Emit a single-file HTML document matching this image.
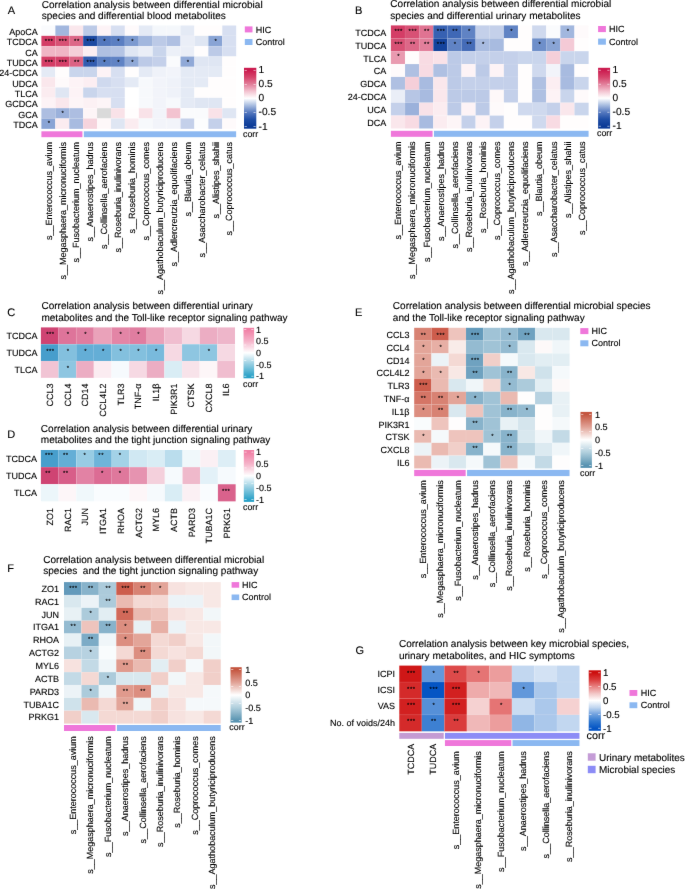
<!DOCTYPE html>
<html><head><meta charset="utf-8"><title>Figure</title>
<style>
html,body{margin:0;padding:0;background:#fff;}
body{width:685px;height:889px;overflow:hidden;}
svg{display:block;font-family:"Liberation Sans", sans-serif;will-change:transform;}
</style></head>
<body>
<svg width="685" height="889" viewBox="0 0 685 889" shape-rendering="crispEdges">
<rect x="0" y="0" width="685" height="889" fill="#ffffff"/>
<defs><filter id="soft" x="0" y="0" width="685" height="889" filterUnits="userSpaceOnUse" color-interpolation-filters="sRGB"><feConvolveMatrix order="3" kernelMatrix="0.00276 0.04704 0.00276 0.04704 0.80077 0.04704 0.00276 0.04704 0.00276" edgeMode="duplicate"/></filter></defs>
<g text-rendering="geometricPrecision" shape-rendering="auto" filter="url(#soft)">
<text x="7.70" y="13.50" font-size="11" text-anchor="start" fill="#000" stroke="#000" stroke-width="0.12" >A</text>
<text x="41.70" y="7.50" font-size="10.05" text-anchor="start" fill="#000" stroke="#000" stroke-width="0.12" >Correlation analysis between differential microbial</text>
<text x="41.70" y="18.80" font-size="10.05" text-anchor="start" fill="#000" stroke="#000" stroke-width="0.12" >species and differential blood metabolites</text>
<rect x="41.40" y="25.50" width="13.96" height="10.38" fill="#FAFBFD" />
<rect x="55.31" y="25.50" width="13.96" height="10.38" fill="#A2B7DE" />
<rect x="69.22" y="25.50" width="13.96" height="10.38" fill="#FAE7EC" />
<rect x="83.13" y="25.50" width="13.96" height="10.38" fill="#BCCAE7" />
<rect x="97.04" y="25.50" width="13.96" height="10.38" fill="#FDF3F6" />
<rect x="110.95" y="25.50" width="13.96" height="10.38" fill="#D7DFF1" />
<rect x="124.86" y="25.50" width="13.96" height="10.38" fill="#FEFAFB" />
<rect x="138.77" y="25.50" width="13.96" height="10.38" fill="#E4EAF5" />
<rect x="152.68" y="25.50" width="13.96" height="10.38" fill="#F4F7FB" />
<rect x="166.59" y="25.50" width="13.96" height="10.38" fill="#F4F7FB" />
<rect x="180.50" y="25.50" width="13.96" height="10.38" fill="#E4EAF5" />
<rect x="194.41" y="25.50" width="13.96" height="10.38" fill="#FFFDFD" />
<rect x="208.32" y="25.50" width="13.96" height="10.38" fill="#FFFDFD" />
<rect x="222.23" y="25.50" width="13.96" height="10.38" fill="#D7DFF1" />
<rect x="41.40" y="35.83" width="13.96" height="10.38" fill="#D43D66" />
<rect x="55.31" y="35.83" width="13.96" height="10.38" fill="#D85175" />
<rect x="69.22" y="35.83" width="13.96" height="10.38" fill="#DD6888" />
<rect x="83.13" y="35.83" width="13.96" height="10.38" fill="#1D4AA2" />
<rect x="97.04" y="35.83" width="13.96" height="10.38" fill="#5378BE" />
<rect x="110.95" y="35.83" width="13.96" height="10.38" fill="#5B7FC2" />
<rect x="124.86" y="35.83" width="13.96" height="10.38" fill="#7C9AD0" />
<rect x="138.77" y="35.83" width="13.96" height="10.38" fill="#A2B7DE" />
<rect x="152.68" y="35.83" width="13.96" height="10.38" fill="#BCCAE7" />
<rect x="166.59" y="35.83" width="13.96" height="10.38" fill="#AFC0E2" />
<rect x="180.50" y="35.83" width="13.96" height="10.38" fill="#EAEEF7" />
<rect x="194.41" y="35.83" width="13.96" height="10.38" fill="#DFE6F3" />
<rect x="208.32" y="35.83" width="13.96" height="10.38" fill="#89A4D5" />
<rect x="222.23" y="35.83" width="13.96" height="10.38" fill="#D7DFF1" />
<rect x="41.40" y="46.16" width="13.96" height="10.38" fill="#F0B5C5" />
<rect x="55.31" y="46.16" width="13.96" height="10.38" fill="#F0B5C5" />
<rect x="69.22" y="46.16" width="13.96" height="10.38" fill="#F5CFD9" />
<rect x="83.13" y="46.16" width="13.96" height="10.38" fill="#FCEEF2" />
<rect x="97.04" y="46.16" width="13.96" height="10.38" fill="#AFC0E2" />
<rect x="110.95" y="46.16" width="13.96" height="10.38" fill="#B4C4E4" />
<rect x="124.86" y="46.16" width="13.96" height="10.38" fill="#DFE6F3" />
<rect x="138.77" y="46.16" width="13.96" height="10.38" fill="#EAEEF7" />
<rect x="152.68" y="46.16" width="13.96" height="10.38" fill="#C9D5EC" />
<rect x="166.59" y="46.16" width="13.96" height="10.38" fill="#ECF0F8" />
<rect x="180.50" y="46.16" width="13.96" height="10.38" fill="#EAEEF7" />
<rect x="194.41" y="46.16" width="13.96" height="10.38" fill="#FFFDFD" />
<rect x="208.32" y="46.16" width="13.96" height="10.38" fill="#BCCAE7" />
<rect x="222.23" y="46.16" width="13.96" height="10.38" fill="#D7DFF1" />
<rect x="41.40" y="56.49" width="13.96" height="10.38" fill="#D43D66" />
<rect x="55.31" y="56.49" width="13.96" height="10.38" fill="#D54069" />
<rect x="69.22" y="56.49" width="13.96" height="10.38" fill="#DC6384" />
<rect x="83.13" y="56.49" width="13.96" height="10.38" fill="#325CAF" />
<rect x="97.04" y="56.49" width="13.96" height="10.38" fill="#5B7FC2" />
<rect x="110.95" y="56.49" width="13.96" height="10.38" fill="#6083C4" />
<rect x="124.86" y="56.49" width="13.96" height="10.38" fill="#90A9D7" />
<rect x="138.77" y="56.49" width="13.96" height="10.38" fill="#BCCAE7" />
<rect x="152.68" y="56.49" width="13.96" height="10.38" fill="#C4D0EA" />
<rect x="166.59" y="56.49" width="13.96" height="10.38" fill="#FAFBFD" />
<rect x="180.50" y="56.49" width="13.96" height="10.38" fill="#90A9D7" />
<rect x="194.41" y="56.49" width="13.96" height="10.38" fill="#DFE6F3" />
<rect x="208.32" y="56.49" width="13.96" height="10.38" fill="#DFE6F3" />
<rect x="222.23" y="56.49" width="13.96" height="10.38" fill="#FFFDFD" />
<rect x="41.40" y="66.82" width="13.96" height="10.38" fill="#E4EAF5" />
<rect x="55.31" y="66.82" width="13.96" height="10.38" fill="#FFFDFD" />
<rect x="69.22" y="66.82" width="13.96" height="10.38" fill="#C9D5EC" />
<rect x="83.13" y="66.82" width="13.96" height="10.38" fill="#C9D5EC" />
<rect x="97.04" y="66.82" width="13.96" height="10.38" fill="#FDF3F6" />
<rect x="110.95" y="66.82" width="13.96" height="10.38" fill="#D7DFF1" />
<rect x="124.86" y="66.82" width="13.96" height="10.38" fill="#FFFDFD" />
<rect x="138.77" y="66.82" width="13.96" height="10.38" fill="#E4EAF5" />
<rect x="152.68" y="66.82" width="13.96" height="10.38" fill="#EFF2F9" />
<rect x="166.59" y="66.82" width="13.96" height="10.38" fill="#F2F4FA" />
<rect x="180.50" y="66.82" width="13.96" height="10.38" fill="#E4EAF5" />
<rect x="194.41" y="66.82" width="13.96" height="10.38" fill="#E4EAF5" />
<rect x="208.32" y="66.82" width="13.96" height="10.38" fill="#E4EAF5" />
<rect x="222.23" y="66.82" width="13.96" height="10.38" fill="#FFFDFD" />
<rect x="41.40" y="77.15" width="13.96" height="10.38" fill="#FAE7EC" />
<rect x="55.31" y="77.15" width="13.96" height="10.38" fill="#FEFAFB" />
<rect x="69.22" y="77.15" width="13.96" height="10.38" fill="#FDF3F6" />
<rect x="83.13" y="77.15" width="13.96" height="10.38" fill="#FCEEF2" />
<rect x="97.04" y="77.15" width="13.96" height="10.38" fill="#CFD9EE" />
<rect x="110.95" y="77.15" width="13.96" height="10.38" fill="#D7DFF1" />
<rect x="124.86" y="77.15" width="13.96" height="10.38" fill="#E4EAF5" />
<rect x="138.77" y="77.15" width="13.96" height="10.38" fill="#F7F9FC" />
<rect x="152.68" y="77.15" width="13.96" height="10.38" fill="#F2F4FA" />
<rect x="166.59" y="77.15" width="13.96" height="10.38" fill="#EFF2F9" />
<rect x="180.50" y="77.15" width="13.96" height="10.38" fill="#E4EAF5" />
<rect x="194.41" y="77.15" width="13.96" height="10.38" fill="#E4EAF5" />
<rect x="208.32" y="77.15" width="13.96" height="10.38" fill="#FFFDFD" />
<rect x="222.23" y="77.15" width="13.96" height="10.38" fill="#FFFDFD" />
<rect x="41.40" y="87.48" width="13.96" height="10.38" fill="#FBECF0" />
<rect x="55.31" y="87.48" width="13.96" height="10.38" fill="#DFE6F3" />
<rect x="69.22" y="87.48" width="13.96" height="10.38" fill="#FDF3F6" />
<rect x="83.13" y="87.48" width="13.96" height="10.38" fill="#C9D5EC" />
<rect x="97.04" y="87.48" width="13.96" height="10.38" fill="#D7DFF1" />
<rect x="110.95" y="87.48" width="13.96" height="10.38" fill="#D7DFF1" />
<rect x="124.86" y="87.48" width="13.96" height="10.38" fill="#FFFFFF" />
<rect x="138.77" y="87.48" width="13.96" height="10.38" fill="#F7F9FC" />
<rect x="152.68" y="87.48" width="13.96" height="10.38" fill="#F2F4FA" />
<rect x="166.59" y="87.48" width="13.96" height="10.38" fill="#EFF2F9" />
<rect x="180.50" y="87.48" width="13.96" height="10.38" fill="#E4EAF5" />
<rect x="194.41" y="87.48" width="13.96" height="10.38" fill="#FFFDFD" />
<rect x="208.32" y="87.48" width="13.96" height="10.38" fill="#FFFDFD" />
<rect x="222.23" y="87.48" width="13.96" height="10.38" fill="#FFFDFD" />
<rect x="41.40" y="97.81" width="13.96" height="10.38" fill="#FDF3F6" />
<rect x="55.31" y="97.81" width="13.96" height="10.38" fill="#FAE7EC" />
<rect x="69.22" y="97.81" width="13.96" height="10.38" fill="#FDF5F7" />
<rect x="83.13" y="97.81" width="13.96" height="10.38" fill="#FCF1F4" />
<rect x="97.04" y="97.81" width="13.96" height="10.38" fill="#FDF5F7" />
<rect x="110.95" y="97.81" width="13.96" height="10.38" fill="#D7DFF1" />
<rect x="124.86" y="97.81" width="13.96" height="10.38" fill="#FFFFFF" />
<rect x="138.77" y="97.81" width="13.96" height="10.38" fill="#F7F9FC" />
<rect x="152.68" y="97.81" width="13.96" height="10.38" fill="#F2F4FA" />
<rect x="166.59" y="97.81" width="13.96" height="10.38" fill="#F7F9FC" />
<rect x="180.50" y="97.81" width="13.96" height="10.38" fill="#E4EAF5" />
<rect x="194.41" y="97.81" width="13.96" height="10.38" fill="#DFE6F3" />
<rect x="208.32" y="97.81" width="13.96" height="10.38" fill="#DFE6F3" />
<rect x="222.23" y="97.81" width="13.96" height="10.38" fill="#FFFDFD" />
<rect x="41.40" y="108.14" width="13.96" height="10.38" fill="#ADBEE1" />
<rect x="55.31" y="108.14" width="13.96" height="10.38" fill="#9BB1DB" />
<rect x="69.22" y="108.14" width="13.96" height="10.38" fill="#ADBEE1" />
<rect x="83.13" y="108.14" width="13.96" height="10.38" fill="#FDF5F7" />
<rect x="97.04" y="108.14" width="13.96" height="10.38" fill="#DADADA" />
<rect x="110.95" y="108.14" width="13.96" height="10.38" fill="#F9E2E8" />
<rect x="124.86" y="108.14" width="13.96" height="10.38" fill="#FFFDFD" />
<rect x="138.77" y="108.14" width="13.96" height="10.38" fill="#F9E2E8" />
<rect x="152.68" y="108.14" width="13.96" height="10.38" fill="#F2F4FA" />
<rect x="166.59" y="108.14" width="13.96" height="10.38" fill="#F3C3D0" />
<rect x="180.50" y="108.14" width="13.96" height="10.38" fill="#FAFBFD" />
<rect x="194.41" y="108.14" width="13.96" height="10.38" fill="#FAFBFD" />
<rect x="208.32" y="108.14" width="13.96" height="10.38" fill="#F9E2E8" />
<rect x="222.23" y="108.14" width="13.96" height="10.38" fill="#DFE6F3" />
<rect x="41.40" y="118.47" width="13.96" height="10.38" fill="#89A4D5" />
<rect x="55.31" y="118.47" width="13.96" height="10.38" fill="#FBECF0" />
<rect x="69.22" y="118.47" width="13.96" height="10.38" fill="#A8BBE0" />
<rect x="83.13" y="118.47" width="13.96" height="10.38" fill="#F6D4DD" />
<rect x="97.04" y="118.47" width="13.96" height="10.38" fill="#FEF8F9" />
<rect x="110.95" y="118.47" width="13.96" height="10.38" fill="#DFE6F3" />
<rect x="124.86" y="118.47" width="13.96" height="10.38" fill="#FBECF0" />
<rect x="138.77" y="118.47" width="13.96" height="10.38" fill="#F7F9FC" />
<rect x="152.68" y="118.47" width="13.96" height="10.38" fill="#F2F4FA" />
<rect x="166.59" y="118.47" width="13.96" height="10.38" fill="#F2F4FA" />
<rect x="180.50" y="118.47" width="13.96" height="10.38" fill="#C4D0EA" />
<rect x="194.41" y="118.47" width="13.96" height="10.38" fill="#FCFDFE" />
<rect x="208.32" y="118.47" width="13.96" height="10.38" fill="#C4D0EA" />
<rect x="222.23" y="118.47" width="13.96" height="10.38" fill="#FEFAFB" />
<rect x="41.40" y="35.58" width="194.74" height="0.50" fill="#ffffff" opacity="0.16"/>
<rect x="41.40" y="45.91" width="194.74" height="0.50" fill="#ffffff" opacity="0.16"/>
<rect x="41.40" y="56.24" width="194.74" height="0.50" fill="#ffffff" opacity="0.16"/>
<rect x="41.40" y="66.57" width="194.74" height="0.50" fill="#ffffff" opacity="0.16"/>
<rect x="41.40" y="76.90" width="194.74" height="0.50" fill="#ffffff" opacity="0.16"/>
<rect x="41.40" y="87.23" width="194.74" height="0.50" fill="#ffffff" opacity="0.16"/>
<rect x="41.40" y="97.56" width="194.74" height="0.50" fill="#ffffff" opacity="0.16"/>
<rect x="41.40" y="107.89" width="194.74" height="0.50" fill="#ffffff" opacity="0.16"/>
<rect x="41.40" y="118.22" width="194.74" height="0.50" fill="#ffffff" opacity="0.16"/>
<rect x="55.06" y="25.50" width="0.50" height="103.30" fill="#ffffff" opacity="0.16"/>
<rect x="68.97" y="25.50" width="0.50" height="103.30" fill="#ffffff" opacity="0.16"/>
<rect x="82.88" y="25.50" width="0.50" height="103.30" fill="#ffffff" opacity="0.16"/>
<rect x="96.79" y="25.50" width="0.50" height="103.30" fill="#ffffff" opacity="0.16"/>
<rect x="110.70" y="25.50" width="0.50" height="103.30" fill="#ffffff" opacity="0.16"/>
<rect x="124.61" y="25.50" width="0.50" height="103.30" fill="#ffffff" opacity="0.16"/>
<rect x="138.52" y="25.50" width="0.50" height="103.30" fill="#ffffff" opacity="0.16"/>
<rect x="152.43" y="25.50" width="0.50" height="103.30" fill="#ffffff" opacity="0.16"/>
<rect x="166.34" y="25.50" width="0.50" height="103.30" fill="#ffffff" opacity="0.16"/>
<rect x="180.25" y="25.50" width="0.50" height="103.30" fill="#ffffff" opacity="0.16"/>
<rect x="194.16" y="25.50" width="0.50" height="103.30" fill="#ffffff" opacity="0.16"/>
<rect x="208.07" y="25.50" width="0.50" height="103.30" fill="#ffffff" opacity="0.16"/>
<rect x="221.98" y="25.50" width="0.50" height="103.30" fill="#ffffff" opacity="0.16"/>
<text x="49.10" y="43.37" font-size="6.0" text-anchor="middle" fill="#000" stroke="#000" stroke-width="0.12" letter-spacing="0.5">***</text>
<text x="63.02" y="43.37" font-size="6.0" text-anchor="middle" fill="#000" stroke="#000" stroke-width="0.12" letter-spacing="0.5">***</text>
<text x="76.92" y="43.37" font-size="6.0" text-anchor="middle" fill="#000" stroke="#000" stroke-width="0.12" letter-spacing="0.5">**</text>
<text x="90.84" y="43.37" font-size="6.0" text-anchor="middle" fill="#000" stroke="#000" stroke-width="0.12" letter-spacing="0.5">***</text>
<text x="104.75" y="43.37" font-size="6.0" text-anchor="middle" fill="#000" stroke="#000" stroke-width="0.12" letter-spacing="0.5">*</text>
<text x="118.66" y="43.37" font-size="6.0" text-anchor="middle" fill="#000" stroke="#000" stroke-width="0.12" letter-spacing="0.5">*</text>
<text x="132.56" y="43.37" font-size="6.0" text-anchor="middle" fill="#000" stroke="#000" stroke-width="0.12" letter-spacing="0.5">*</text>
<text x="216.03" y="43.37" font-size="6.0" text-anchor="middle" fill="#000" stroke="#000" stroke-width="0.12" letter-spacing="0.5">*</text>
<text x="49.10" y="63.77" font-size="6.0" text-anchor="middle" fill="#000" stroke="#000" stroke-width="0.12" letter-spacing="0.5">***</text>
<text x="63.02" y="63.77" font-size="6.0" text-anchor="middle" fill="#000" stroke="#000" stroke-width="0.12" letter-spacing="0.5">***</text>
<text x="76.92" y="63.77" font-size="6.0" text-anchor="middle" fill="#000" stroke="#000" stroke-width="0.12" letter-spacing="0.5">**</text>
<text x="90.84" y="63.77" font-size="6.0" text-anchor="middle" fill="#000" stroke="#000" stroke-width="0.12" letter-spacing="0.5">***</text>
<text x="104.75" y="63.77" font-size="6.0" text-anchor="middle" fill="#000" stroke="#000" stroke-width="0.12" letter-spacing="0.5">*</text>
<text x="118.66" y="63.77" font-size="6.0" text-anchor="middle" fill="#000" stroke="#000" stroke-width="0.12" letter-spacing="0.5">*</text>
<text x="132.56" y="63.77" font-size="6.0" text-anchor="middle" fill="#000" stroke="#000" stroke-width="0.12" letter-spacing="0.5">*</text>
<text x="188.21" y="63.77" font-size="6.0" text-anchor="middle" fill="#000" stroke="#000" stroke-width="0.12" letter-spacing="0.5">*</text>
<text x="63.02" y="114.77" font-size="6.0" text-anchor="middle" fill="#000" stroke="#000" stroke-width="0.12" letter-spacing="0.5">*</text>
<text x="49.10" y="124.97" font-size="6.0" text-anchor="middle" fill="#000" stroke="#000" stroke-width="0.12" letter-spacing="0.5">*</text>
<text x="37.80" y="34.96" font-size="9.0" text-anchor="end" fill="#000" stroke="#000" stroke-width="0.12" >ApoCA</text>
<text x="37.80" y="45.30" font-size="9.0" text-anchor="end" fill="#000" stroke="#000" stroke-width="0.12" >TCDCA</text>
<text x="37.80" y="55.62" font-size="9.0" text-anchor="end" fill="#000" stroke="#000" stroke-width="0.12" >CA</text>
<text x="37.80" y="65.95" font-size="9.0" text-anchor="end" fill="#000" stroke="#000" stroke-width="0.12" >TUDCA</text>
<text x="37.80" y="76.28" font-size="9.0" text-anchor="end" fill="#000" stroke="#000" stroke-width="0.12" >24-CDCA</text>
<text x="37.80" y="86.61" font-size="9.0" text-anchor="end" fill="#000" stroke="#000" stroke-width="0.12" >UDCA</text>
<text x="37.80" y="96.94" font-size="9.0" text-anchor="end" fill="#000" stroke="#000" stroke-width="0.12" >TLCA</text>
<text x="37.80" y="107.27" font-size="9.0" text-anchor="end" fill="#000" stroke="#000" stroke-width="0.12" >GCDCA</text>
<text x="37.80" y="117.61" font-size="9.0" text-anchor="end" fill="#000" stroke="#000" stroke-width="0.12" >GCA</text>
<text x="37.80" y="127.94" font-size="9.0" text-anchor="end" fill="#000" stroke="#000" stroke-width="0.12" >TDCA</text>
<rect x="41.40" y="131.30" width="41.03" height="5.90" fill="#EF77DA" />
<rect x="83.83" y="131.30" width="152.31" height="5.90" fill="#8BB8F1" />
<text transform="translate(51.65,141.90) rotate(-90)" font-size="9.0" text-anchor="end" fill="#000" stroke="#000" stroke-width="0.12">s__Enterococcus_avium</text>
<text transform="translate(65.56,141.90) rotate(-90)" font-size="9.0" text-anchor="end" fill="#000" stroke="#000" stroke-width="0.12">s__Megasphaera_micronuciformis</text>
<text transform="translate(79.47,141.90) rotate(-90)" font-size="9.0" text-anchor="end" fill="#000" stroke="#000" stroke-width="0.12">s__Fusobacterium_nucleatum</text>
<text transform="translate(93.39,141.90) rotate(-90)" font-size="9.0" text-anchor="end" fill="#000" stroke="#000" stroke-width="0.12">s__Anaerostipes_hadrus</text>
<text transform="translate(107.30,141.90) rotate(-90)" font-size="9.0" text-anchor="end" fill="#000" stroke="#000" stroke-width="0.12">s__Collinsella_aerofaciens</text>
<text transform="translate(121.20,141.90) rotate(-90)" font-size="9.0" text-anchor="end" fill="#000" stroke="#000" stroke-width="0.12">s__Roseburia_inulinivorans</text>
<text transform="translate(135.12,141.90) rotate(-90)" font-size="9.0" text-anchor="end" fill="#000" stroke="#000" stroke-width="0.12">s__Roseburia_hominis</text>
<text transform="translate(149.03,141.90) rotate(-90)" font-size="9.0" text-anchor="end" fill="#000" stroke="#000" stroke-width="0.12">s__Coprococcus_comes</text>
<text transform="translate(162.94,141.90) rotate(-90)" font-size="9.0" text-anchor="end" fill="#000" stroke="#000" stroke-width="0.12">s__Agathobaculum_butyriciproducens</text>
<text transform="translate(176.85,141.90) rotate(-90)" font-size="9.0" text-anchor="end" fill="#000" stroke="#000" stroke-width="0.12">s__Adlercreutzia_equolifaciens</text>
<text transform="translate(190.76,141.90) rotate(-90)" font-size="9.0" text-anchor="end" fill="#000" stroke="#000" stroke-width="0.12">s__Blautia_obeum</text>
<text transform="translate(204.67,141.90) rotate(-90)" font-size="9.0" text-anchor="end" fill="#000" stroke="#000" stroke-width="0.12">s__Asaccharobacter_celatus</text>
<text transform="translate(218.58,141.90) rotate(-90)" font-size="9.0" text-anchor="end" fill="#000" stroke="#000" stroke-width="0.12">s__Alistipes_shahii</text>
<text transform="translate(232.49,141.90) rotate(-90)" font-size="9.0" text-anchor="end" fill="#000" stroke="#000" stroke-width="0.12">s__Coprococcus_catus</text>
<rect x="244.80" y="26.40" width="7.70" height="6.00" fill="#EF77DA" />
<rect x="244.80" y="39.00" width="7.70" height="6.00" fill="#8BB8F1" />
<text x="255.70" y="32.50" font-size="9.0" text-anchor="start" fill="#000" stroke="#000" stroke-width="0.12" >HIC</text>
<text x="255.70" y="45.10" font-size="9.0" text-anchor="start" fill="#000" stroke="#000" stroke-width="0.12" >Control</text>
<defs><linearGradient id="g213" x1="0" y1="0" x2="0" y2="1"><stop offset="0.0411" stop-color="#CB1B4F"/><stop offset="0.0794" stop-color="#CF2959"/><stop offset="0.1178" stop-color="#D23762"/><stop offset="0.1562" stop-color="#D6456C"/><stop offset="0.1946" stop-color="#DA587C"/><stop offset="0.2330" stop-color="#DE6C8B"/><stop offset="0.2713" stop-color="#E27F9B"/><stop offset="0.3097" stop-color="#E896AD"/><stop offset="0.3481" stop-color="#EDACBE"/><stop offset="0.3865" stop-color="#F3C3D0"/><stop offset="0.4249" stop-color="#F7D7E0"/><stop offset="0.4633" stop-color="#FBEBEF"/><stop offset="0.5016" stop-color="#FFFFFF"/><stop offset="0.5400" stop-color="#E2E9F5"/><stop offset="0.5784" stop-color="#C5D3EA"/><stop offset="0.6168" stop-color="#A8BDE0"/><stop offset="0.6552" stop-color="#8DA6D5"/><stop offset="0.6936" stop-color="#7190CA"/><stop offset="0.7319" stop-color="#5679BF"/><stop offset="0.7703" stop-color="#446BB7"/><stop offset="0.8087" stop-color="#315CAE"/><stop offset="0.8471" stop-color="#1F4EA6"/><stop offset="0.8855" stop-color="#1948A1"/><stop offset="0.9239" stop-color="#12419C"/><stop offset="0.9622" stop-color="#0C3B97"/></linearGradient></defs>
<rect x="244.00" y="67.80" width="12.30" height="60.90" fill="url(#g213)" />
<rect x="244.60" y="69.95" width="2.20" height="0.70" fill="#ffffff" opacity="0.8"/>
<rect x="253.50" y="69.95" width="2.20" height="0.70" fill="#ffffff" opacity="0.8"/>
<rect x="244.60" y="83.98" width="2.20" height="0.70" fill="#ffffff" opacity="0.8"/>
<rect x="253.50" y="83.98" width="2.20" height="0.70" fill="#ffffff" opacity="0.8"/>
<rect x="244.60" y="98.00" width="2.20" height="0.70" fill="#ffffff" opacity="0.8"/>
<rect x="253.50" y="98.00" width="2.20" height="0.70" fill="#ffffff" opacity="0.8"/>
<rect x="244.60" y="112.03" width="2.20" height="0.70" fill="#ffffff" opacity="0.8"/>
<rect x="253.50" y="112.03" width="2.20" height="0.70" fill="#ffffff" opacity="0.8"/>
<rect x="244.60" y="126.05" width="2.20" height="0.70" fill="#ffffff" opacity="0.8"/>
<rect x="253.50" y="126.05" width="2.20" height="0.70" fill="#ffffff" opacity="0.8"/>
<text x="258.50" y="73.40" font-size="10.2" text-anchor="start" fill="#000" stroke="#000" stroke-width="0.12" >1</text>
<text x="258.50" y="87.42" font-size="10.2" text-anchor="start" fill="#000" stroke="#000" stroke-width="0.12" >0.5</text>
<text x="258.50" y="101.45" font-size="10.2" text-anchor="start" fill="#000" stroke="#000" stroke-width="0.12" >0</text>
<text x="258.50" y="115.47" font-size="10.2" text-anchor="start" fill="#000" stroke="#000" stroke-width="0.12" >-0.5</text>
<text x="258.50" y="129.50" font-size="10.2" text-anchor="start" fill="#000" stroke="#000" stroke-width="0.12" >-1</text>
<text x="243.00" y="136.50" font-size="8.9" text-anchor="start" fill="#000" stroke="#000" stroke-width="0.12" >corr</text>
<text x="355.00" y="13.50" font-size="11" text-anchor="start" fill="#000" stroke="#000" stroke-width="0.12" >B</text>
<text x="390.30" y="7.10" font-size="10.05" text-anchor="start" fill="#000" stroke="#000" stroke-width="0.12" >Correlation analysis between differential microbial</text>
<text x="390.30" y="18.60" font-size="10.05" text-anchor="start" fill="#000" stroke="#000" stroke-width="0.12" >species and differential urinary metabolites</text>
<rect x="390.90" y="25.40" width="14.17" height="12.93" fill="#D43D66" />
<rect x="405.02" y="25.40" width="14.17" height="12.93" fill="#D85175" />
<rect x="419.14" y="25.40" width="14.17" height="12.93" fill="#E07392" />
<rect x="433.26" y="25.40" width="14.17" height="12.93" fill="#3761B2" />
<rect x="447.38" y="25.40" width="14.17" height="12.93" fill="#3F68B6" />
<rect x="461.50" y="25.40" width="14.17" height="12.93" fill="#6083C4" />
<rect x="475.62" y="25.40" width="14.17" height="12.93" fill="#C4D0EA" />
<rect x="489.74" y="25.40" width="14.17" height="12.93" fill="#C4D0EA" />
<rect x="503.86" y="25.40" width="14.17" height="12.93" fill="#6083C4" />
<rect x="517.98" y="25.40" width="14.17" height="12.93" fill="#FFFDFD" />
<rect x="532.10" y="25.40" width="14.17" height="12.93" fill="#CFD9EE" />
<rect x="546.22" y="25.40" width="14.17" height="12.93" fill="#FAFBFD" />
<rect x="560.34" y="25.40" width="14.17" height="12.93" fill="#A2B7DE" />
<rect x="574.46" y="25.40" width="14.17" height="12.93" fill="#FEFAFB" />
<rect x="390.90" y="38.28" width="14.17" height="12.93" fill="#D85175" />
<rect x="405.02" y="38.28" width="14.17" height="12.93" fill="#DD6888" />
<rect x="419.14" y="38.28" width="14.17" height="12.93" fill="#E27F9B" />
<rect x="433.26" y="38.28" width="14.17" height="12.93" fill="#14439D" />
<rect x="447.38" y="38.28" width="14.17" height="12.93" fill="#6083C4" />
<rect x="461.50" y="38.28" width="14.17" height="12.93" fill="#456CB8" />
<rect x="475.62" y="38.28" width="14.17" height="12.93" fill="#A8BBE0" />
<rect x="489.74" y="38.28" width="14.17" height="12.93" fill="#A8BBE0" />
<rect x="503.86" y="38.28" width="14.17" height="12.93" fill="#FFFDFD" />
<rect x="517.98" y="38.28" width="14.17" height="12.93" fill="#FFFDFD" />
<rect x="532.10" y="38.28" width="14.17" height="12.93" fill="#6E8FCA" />
<rect x="546.22" y="38.28" width="14.17" height="12.93" fill="#89A4D5" />
<rect x="560.34" y="38.28" width="14.17" height="12.93" fill="#F4CAD6" />
<rect x="574.46" y="38.28" width="14.17" height="12.93" fill="#FFFDFD" />
<rect x="390.90" y="51.16" width="14.17" height="12.93" fill="#E99AB0" />
<rect x="405.02" y="51.16" width="14.17" height="12.93" fill="#FFFDFD" />
<rect x="419.14" y="51.16" width="14.17" height="12.93" fill="#F8DBE3" />
<rect x="433.26" y="51.16" width="14.17" height="12.93" fill="#F9E2E8" />
<rect x="447.38" y="51.16" width="14.17" height="12.93" fill="#BCCAE7" />
<rect x="461.50" y="51.16" width="14.17" height="12.93" fill="#C4D0EA" />
<rect x="475.62" y="51.16" width="14.17" height="12.93" fill="#C4D0EA" />
<rect x="489.74" y="51.16" width="14.17" height="12.93" fill="#C4D0EA" />
<rect x="503.86" y="51.16" width="14.17" height="12.93" fill="#C4D0EA" />
<rect x="517.98" y="51.16" width="14.17" height="12.93" fill="#C9D5EC" />
<rect x="532.10" y="51.16" width="14.17" height="12.93" fill="#C9D5EC" />
<rect x="546.22" y="51.16" width="14.17" height="12.93" fill="#F5CFD9" />
<rect x="560.34" y="51.16" width="14.17" height="12.93" fill="#C9D5EC" />
<rect x="574.46" y="51.16" width="14.17" height="12.93" fill="#C9D5EC" />
<rect x="390.90" y="64.04" width="14.17" height="12.93" fill="#FEFAFB" />
<rect x="405.02" y="64.04" width="14.17" height="12.93" fill="#AFC0E2" />
<rect x="419.14" y="64.04" width="14.17" height="12.93" fill="#F8DBE3" />
<rect x="433.26" y="64.04" width="14.17" height="12.93" fill="#AFC0E2" />
<rect x="447.38" y="64.04" width="14.17" height="12.93" fill="#BCCAE7" />
<rect x="461.50" y="64.04" width="14.17" height="12.93" fill="#FDF3F6" />
<rect x="475.62" y="64.04" width="14.17" height="12.93" fill="#BCCAE7" />
<rect x="489.74" y="64.04" width="14.17" height="12.93" fill="#FDF3F6" />
<rect x="503.86" y="64.04" width="14.17" height="12.93" fill="#C4D0EA" />
<rect x="517.98" y="64.04" width="14.17" height="12.93" fill="#FFFDFD" />
<rect x="532.10" y="64.04" width="14.17" height="12.93" fill="#CFD9EE" />
<rect x="546.22" y="64.04" width="14.17" height="12.93" fill="#F2F4FA" />
<rect x="560.34" y="64.04" width="14.17" height="12.93" fill="#A8BBE0" />
<rect x="574.46" y="64.04" width="14.17" height="12.93" fill="#FFFDFD" />
<rect x="390.90" y="76.92" width="14.17" height="12.93" fill="#AFC0E2" />
<rect x="405.02" y="76.92" width="14.17" height="12.93" fill="#F5CFD9" />
<rect x="419.14" y="76.92" width="14.17" height="12.93" fill="#A8BBE0" />
<rect x="433.26" y="76.92" width="14.17" height="12.93" fill="#FAE7EC" />
<rect x="447.38" y="76.92" width="14.17" height="12.93" fill="#BCCAE7" />
<rect x="461.50" y="76.92" width="14.17" height="12.93" fill="#C4D0EA" />
<rect x="475.62" y="76.92" width="14.17" height="12.93" fill="#C4D0EA" />
<rect x="489.74" y="76.92" width="14.17" height="12.93" fill="#C4D0EA" />
<rect x="503.86" y="76.92" width="14.17" height="12.93" fill="#C4D0EA" />
<rect x="517.98" y="76.92" width="14.17" height="12.93" fill="#FFFDFD" />
<rect x="532.10" y="76.92" width="14.17" height="12.93" fill="#AFC0E2" />
<rect x="546.22" y="76.92" width="14.17" height="12.93" fill="#FCEEF2" />
<rect x="560.34" y="76.92" width="14.17" height="12.93" fill="#A8BBE0" />
<rect x="574.46" y="76.92" width="14.17" height="12.93" fill="#C9D5EC" />
<rect x="390.90" y="89.80" width="14.17" height="12.93" fill="#EAEEF7" />
<rect x="405.02" y="89.80" width="14.17" height="12.93" fill="#B7C6E5" />
<rect x="419.14" y="89.80" width="14.17" height="12.93" fill="#A8BBE0" />
<rect x="433.26" y="89.80" width="14.17" height="12.93" fill="#FAE7EC" />
<rect x="447.38" y="89.80" width="14.17" height="12.93" fill="#BCCAE7" />
<rect x="461.50" y="89.80" width="14.17" height="12.93" fill="#BCCAE7" />
<rect x="475.62" y="89.80" width="14.17" height="12.93" fill="#BCCAE7" />
<rect x="489.74" y="89.80" width="14.17" height="12.93" fill="#FEF8F9" />
<rect x="503.86" y="89.80" width="14.17" height="12.93" fill="#C4D0EA" />
<rect x="517.98" y="89.80" width="14.17" height="12.93" fill="#FFFDFD" />
<rect x="532.10" y="89.80" width="14.17" height="12.93" fill="#AFC0E2" />
<rect x="546.22" y="89.80" width="14.17" height="12.93" fill="#FDF3F6" />
<rect x="560.34" y="89.80" width="14.17" height="12.93" fill="#C9D5EC" />
<rect x="574.46" y="89.80" width="14.17" height="12.93" fill="#FEFAFB" />
<rect x="390.90" y="102.68" width="14.17" height="12.93" fill="#C4D0EA" />
<rect x="405.02" y="102.68" width="14.17" height="12.93" fill="#9BB1DB" />
<rect x="419.14" y="102.68" width="14.17" height="12.93" fill="#F9E2E8" />
<rect x="433.26" y="102.68" width="14.17" height="12.93" fill="#FBECF0" />
<rect x="447.38" y="102.68" width="14.17" height="12.93" fill="#BCCAE7" />
<rect x="461.50" y="102.68" width="14.17" height="12.93" fill="#FDF3F6" />
<rect x="475.62" y="102.68" width="14.17" height="12.93" fill="#BCCAE7" />
<rect x="489.74" y="102.68" width="14.17" height="12.93" fill="#FEFAFB" />
<rect x="503.86" y="102.68" width="14.17" height="12.93" fill="#FFFDFD" />
<rect x="517.98" y="102.68" width="14.17" height="12.93" fill="#CFD9EE" />
<rect x="532.10" y="102.68" width="14.17" height="12.93" fill="#CFD9EE" />
<rect x="546.22" y="102.68" width="14.17" height="12.93" fill="#C4D0EA" />
<rect x="560.34" y="102.68" width="14.17" height="12.93" fill="#FAE7EC" />
<rect x="574.46" y="102.68" width="14.17" height="12.93" fill="#C9D5EC" />
<rect x="390.90" y="115.56" width="14.17" height="12.93" fill="#FAE7EC" />
<rect x="405.02" y="115.56" width="14.17" height="12.93" fill="#F8DBE3" />
<rect x="419.14" y="115.56" width="14.17" height="12.93" fill="#A8BBE0" />
<rect x="433.26" y="115.56" width="14.17" height="12.93" fill="#FBECF0" />
<rect x="447.38" y="115.56" width="14.17" height="12.93" fill="#FDF5F7" />
<rect x="461.50" y="115.56" width="14.17" height="12.93" fill="#C4D0EA" />
<rect x="475.62" y="115.56" width="14.17" height="12.93" fill="#FDF3F6" />
<rect x="489.74" y="115.56" width="14.17" height="12.93" fill="#C4D0EA" />
<rect x="503.86" y="115.56" width="14.17" height="12.93" fill="#FFFDFD" />
<rect x="517.98" y="115.56" width="14.17" height="12.93" fill="#FFFDFD" />
<rect x="532.10" y="115.56" width="14.17" height="12.93" fill="#CFD9EE" />
<rect x="546.22" y="115.56" width="14.17" height="12.93" fill="#F8DBE3" />
<rect x="560.34" y="115.56" width="14.17" height="12.93" fill="#FFFDFD" />
<rect x="574.46" y="115.56" width="14.17" height="12.93" fill="#FFFDFD" />
<rect x="390.90" y="38.03" width="197.68" height="0.50" fill="#ffffff" opacity="0.16"/>
<rect x="390.90" y="50.91" width="197.68" height="0.50" fill="#ffffff" opacity="0.16"/>
<rect x="390.90" y="63.79" width="197.68" height="0.50" fill="#ffffff" opacity="0.16"/>
<rect x="390.90" y="76.67" width="197.68" height="0.50" fill="#ffffff" opacity="0.16"/>
<rect x="390.90" y="89.55" width="197.68" height="0.50" fill="#ffffff" opacity="0.16"/>
<rect x="390.90" y="102.43" width="197.68" height="0.50" fill="#ffffff" opacity="0.16"/>
<rect x="390.90" y="115.31" width="197.68" height="0.50" fill="#ffffff" opacity="0.16"/>
<rect x="404.77" y="25.40" width="0.50" height="103.04" fill="#ffffff" opacity="0.16"/>
<rect x="418.89" y="25.40" width="0.50" height="103.04" fill="#ffffff" opacity="0.16"/>
<rect x="433.01" y="25.40" width="0.50" height="103.04" fill="#ffffff" opacity="0.16"/>
<rect x="447.13" y="25.40" width="0.50" height="103.04" fill="#ffffff" opacity="0.16"/>
<rect x="461.25" y="25.40" width="0.50" height="103.04" fill="#ffffff" opacity="0.16"/>
<rect x="475.37" y="25.40" width="0.50" height="103.04" fill="#ffffff" opacity="0.16"/>
<rect x="489.49" y="25.40" width="0.50" height="103.04" fill="#ffffff" opacity="0.16"/>
<rect x="503.61" y="25.40" width="0.50" height="103.04" fill="#ffffff" opacity="0.16"/>
<rect x="517.73" y="25.40" width="0.50" height="103.04" fill="#ffffff" opacity="0.16"/>
<rect x="531.85" y="25.40" width="0.50" height="103.04" fill="#ffffff" opacity="0.16"/>
<rect x="545.97" y="25.40" width="0.50" height="103.04" fill="#ffffff" opacity="0.16"/>
<rect x="560.09" y="25.40" width="0.50" height="103.04" fill="#ffffff" opacity="0.16"/>
<rect x="574.21" y="25.40" width="0.50" height="103.04" fill="#ffffff" opacity="0.16"/>
<text x="398.71" y="33.22" font-size="6.0" text-anchor="middle" fill="#000" stroke="#000" stroke-width="0.12" letter-spacing="0.5">***</text>
<text x="412.83" y="33.22" font-size="6.0" text-anchor="middle" fill="#000" stroke="#000" stroke-width="0.12" letter-spacing="0.5">***</text>
<text x="426.95" y="33.22" font-size="6.0" text-anchor="middle" fill="#000" stroke="#000" stroke-width="0.12" letter-spacing="0.5">**</text>
<text x="441.07" y="33.22" font-size="6.0" text-anchor="middle" fill="#000" stroke="#000" stroke-width="0.12" letter-spacing="0.5">***</text>
<text x="455.19" y="33.22" font-size="6.0" text-anchor="middle" fill="#000" stroke="#000" stroke-width="0.12" letter-spacing="0.5">**</text>
<text x="469.31" y="33.22" font-size="6.0" text-anchor="middle" fill="#000" stroke="#000" stroke-width="0.12" letter-spacing="0.5">*</text>
<text x="511.67" y="33.22" font-size="6.0" text-anchor="middle" fill="#000" stroke="#000" stroke-width="0.12" letter-spacing="0.5">*</text>
<text x="568.15" y="33.22" font-size="6.0" text-anchor="middle" fill="#000" stroke="#000" stroke-width="0.12" letter-spacing="0.5">*</text>
<text x="398.71" y="45.62" font-size="6.0" text-anchor="middle" fill="#000" stroke="#000" stroke-width="0.12" letter-spacing="0.5">***</text>
<text x="412.83" y="45.62" font-size="6.0" text-anchor="middle" fill="#000" stroke="#000" stroke-width="0.12" letter-spacing="0.5">**</text>
<text x="426.95" y="45.62" font-size="6.0" text-anchor="middle" fill="#000" stroke="#000" stroke-width="0.12" letter-spacing="0.5">**</text>
<text x="441.07" y="45.62" font-size="6.0" text-anchor="middle" fill="#000" stroke="#000" stroke-width="0.12" letter-spacing="0.5">***</text>
<text x="455.19" y="45.62" font-size="6.0" text-anchor="middle" fill="#000" stroke="#000" stroke-width="0.12" letter-spacing="0.5">*</text>
<text x="469.31" y="45.62" font-size="6.0" text-anchor="middle" fill="#000" stroke="#000" stroke-width="0.12" letter-spacing="0.5">**</text>
<text x="483.43" y="45.62" font-size="6.0" text-anchor="middle" fill="#000" stroke="#000" stroke-width="0.12" letter-spacing="0.5">*</text>
<text x="539.91" y="45.62" font-size="6.0" text-anchor="middle" fill="#000" stroke="#000" stroke-width="0.12" letter-spacing="0.5">*</text>
<text x="554.03" y="45.62" font-size="6.0" text-anchor="middle" fill="#000" stroke="#000" stroke-width="0.12" letter-spacing="0.5">*</text>
<text x="398.71" y="58.02" font-size="6.0" text-anchor="middle" fill="#000" stroke="#000" stroke-width="0.12" letter-spacing="0.5">*</text>
<text x="386.20" y="35.84" font-size="9.0" text-anchor="end" fill="#000" stroke="#000" stroke-width="0.12" >TCDCA</text>
<text x="386.20" y="48.72" font-size="9.0" text-anchor="end" fill="#000" stroke="#000" stroke-width="0.12" >TUDCA</text>
<text x="386.20" y="61.60" font-size="9.0" text-anchor="end" fill="#000" stroke="#000" stroke-width="0.12" >TLCA</text>
<text x="386.20" y="74.48" font-size="9.0" text-anchor="end" fill="#000" stroke="#000" stroke-width="0.12" >CA</text>
<text x="386.20" y="87.36" font-size="9.0" text-anchor="end" fill="#000" stroke="#000" stroke-width="0.12" >GDCA</text>
<text x="386.20" y="100.24" font-size="9.0" text-anchor="end" fill="#000" stroke="#000" stroke-width="0.12" >24-CDCA</text>
<text x="386.20" y="113.12" font-size="9.0" text-anchor="end" fill="#000" stroke="#000" stroke-width="0.12" >UCA</text>
<text x="386.20" y="126.00" font-size="9.0" text-anchor="end" fill="#000" stroke="#000" stroke-width="0.12" >DCA</text>
<rect x="390.90" y="130.80" width="41.66" height="6.00" fill="#EF77DA" />
<rect x="433.96" y="130.80" width="154.62" height="6.00" fill="#8BB8F1" />
<text transform="translate(401.26,141.50) rotate(-90)" font-size="9.0" text-anchor="end" fill="#000" stroke="#000" stroke-width="0.12">s__Enterococcus_avium</text>
<text transform="translate(415.38,141.50) rotate(-90)" font-size="9.0" text-anchor="end" fill="#000" stroke="#000" stroke-width="0.12">s__Megasphaera_micronuciformis</text>
<text transform="translate(429.50,141.50) rotate(-90)" font-size="9.0" text-anchor="end" fill="#000" stroke="#000" stroke-width="0.12">s__Fusobacterium_nucleatum</text>
<text transform="translate(443.62,141.50) rotate(-90)" font-size="9.0" text-anchor="end" fill="#000" stroke="#000" stroke-width="0.12">s__Anaerostipes_hadrus</text>
<text transform="translate(457.74,141.50) rotate(-90)" font-size="9.0" text-anchor="end" fill="#000" stroke="#000" stroke-width="0.12">s__Collinsella_aerofaciens</text>
<text transform="translate(471.86,141.50) rotate(-90)" font-size="9.0" text-anchor="end" fill="#000" stroke="#000" stroke-width="0.12">s__Roseburia_inulinivorans</text>
<text transform="translate(485.98,141.50) rotate(-90)" font-size="9.0" text-anchor="end" fill="#000" stroke="#000" stroke-width="0.12">s__Roseburia_hominis</text>
<text transform="translate(500.10,141.50) rotate(-90)" font-size="9.0" text-anchor="end" fill="#000" stroke="#000" stroke-width="0.12">s__Coprococcus_comes</text>
<text transform="translate(514.22,141.50) rotate(-90)" font-size="9.0" text-anchor="end" fill="#000" stroke="#000" stroke-width="0.12">s__Agathobaculum_butyriciproducens</text>
<text transform="translate(528.34,141.50) rotate(-90)" font-size="9.0" text-anchor="end" fill="#000" stroke="#000" stroke-width="0.12">s__Adlercreutzia_equolifaciens</text>
<text transform="translate(542.46,141.50) rotate(-90)" font-size="9.0" text-anchor="end" fill="#000" stroke="#000" stroke-width="0.12">s__Blautia_obeum</text>
<text transform="translate(556.58,141.50) rotate(-90)" font-size="9.0" text-anchor="end" fill="#000" stroke="#000" stroke-width="0.12">s__Asaccharobacter_celatus</text>
<text transform="translate(570.70,141.50) rotate(-90)" font-size="9.0" text-anchor="end" fill="#000" stroke="#000" stroke-width="0.12">s__Alistipes_shahii</text>
<text transform="translate(584.82,141.50) rotate(-90)" font-size="9.0" text-anchor="end" fill="#000" stroke="#000" stroke-width="0.12">s__Coprococcus_catus</text>
<rect x="598.10" y="26.00" width="7.80" height="6.10" fill="#EF77DA" />
<rect x="598.10" y="38.60" width="7.80" height="6.10" fill="#8BB8F1" />
<text x="609.10" y="32.15" font-size="9.0" text-anchor="start" fill="#000" stroke="#000" stroke-width="0.12" >HIC</text>
<text x="609.10" y="44.75" font-size="9.0" text-anchor="start" fill="#000" stroke="#000" stroke-width="0.12" >Control</text>
<defs><linearGradient id="g412" x1="0" y1="0" x2="0" y2="1"><stop offset="0.0395" stop-color="#CB1B4F"/><stop offset="0.0779" stop-color="#CF2959"/><stop offset="0.1162" stop-color="#D23762"/><stop offset="0.1546" stop-color="#D6456C"/><stop offset="0.1930" stop-color="#DA587C"/><stop offset="0.2314" stop-color="#DE6C8B"/><stop offset="0.2697" stop-color="#E27F9B"/><stop offset="0.3081" stop-color="#E896AD"/><stop offset="0.3465" stop-color="#EDACBE"/><stop offset="0.3849" stop-color="#F3C3D0"/><stop offset="0.4232" stop-color="#F7D7E0"/><stop offset="0.4616" stop-color="#FBEBEF"/><stop offset="0.5000" stop-color="#FFFFFF"/><stop offset="0.5384" stop-color="#E2E9F5"/><stop offset="0.5768" stop-color="#C5D3EA"/><stop offset="0.6151" stop-color="#A8BDE0"/><stop offset="0.6535" stop-color="#8DA6D5"/><stop offset="0.6919" stop-color="#7190CA"/><stop offset="0.7303" stop-color="#5679BF"/><stop offset="0.7686" stop-color="#446BB7"/><stop offset="0.8070" stop-color="#315CAE"/><stop offset="0.8454" stop-color="#1F4EA6"/><stop offset="0.8838" stop-color="#1948A1"/><stop offset="0.9221" stop-color="#12419C"/><stop offset="0.9605" stop-color="#0C3B97"/></linearGradient></defs>
<rect x="598.10" y="67.80" width="12.00" height="60.80" fill="url(#g412)" />
<rect x="598.70" y="69.85" width="2.20" height="0.70" fill="#ffffff" opacity="0.8"/>
<rect x="607.30" y="69.85" width="2.20" height="0.70" fill="#ffffff" opacity="0.8"/>
<rect x="598.70" y="83.85" width="2.20" height="0.70" fill="#ffffff" opacity="0.8"/>
<rect x="607.30" y="83.85" width="2.20" height="0.70" fill="#ffffff" opacity="0.8"/>
<rect x="598.70" y="97.85" width="2.20" height="0.70" fill="#ffffff" opacity="0.8"/>
<rect x="607.30" y="97.85" width="2.20" height="0.70" fill="#ffffff" opacity="0.8"/>
<rect x="598.70" y="111.85" width="2.20" height="0.70" fill="#ffffff" opacity="0.8"/>
<rect x="607.30" y="111.85" width="2.20" height="0.70" fill="#ffffff" opacity="0.8"/>
<rect x="598.70" y="125.85" width="2.20" height="0.70" fill="#ffffff" opacity="0.8"/>
<rect x="607.30" y="125.85" width="2.20" height="0.70" fill="#ffffff" opacity="0.8"/>
<text x="612.50" y="73.30" font-size="10.2" text-anchor="start" fill="#000" stroke="#000" stroke-width="0.12" >1</text>
<text x="612.50" y="87.30" font-size="10.2" text-anchor="start" fill="#000" stroke="#000" stroke-width="0.12" >0.5</text>
<text x="612.50" y="101.30" font-size="10.2" text-anchor="start" fill="#000" stroke="#000" stroke-width="0.12" >0</text>
<text x="612.50" y="115.30" font-size="10.2" text-anchor="start" fill="#000" stroke="#000" stroke-width="0.12" >-0.5</text>
<text x="612.50" y="129.30" font-size="10.2" text-anchor="start" fill="#000" stroke="#000" stroke-width="0.12" >-1</text>
<text x="597.00" y="136.00" font-size="8.9" text-anchor="start" fill="#000" stroke="#000" stroke-width="0.12" >corr</text>
<text x="7.35" y="316.30" font-size="11" text-anchor="start" fill="#000" stroke="#000" stroke-width="0.12" >C</text>
<text x="41.40" y="309.30" font-size="10.05" text-anchor="start" fill="#000" stroke="#000" stroke-width="0.12" >Correlation analysis between differential urinary</text>
<text x="41.40" y="320.90" font-size="10.05" text-anchor="start" fill="#000" stroke="#000" stroke-width="0.12" >metabolites and the Toll-like receptor signaling pathway</text>
<rect x="40.90" y="327.40" width="17.69" height="16.85" fill="#CF4473" />
<rect x="58.54" y="327.40" width="17.69" height="16.85" fill="#DE749A" />
<rect x="76.18" y="327.40" width="17.69" height="16.85" fill="#E07DA0" />
<rect x="93.82" y="327.40" width="17.69" height="16.85" fill="#EAA2BA" />
<rect x="111.46" y="327.40" width="17.69" height="16.85" fill="#E385A6" />
<rect x="129.10" y="327.40" width="17.69" height="16.85" fill="#E07DA0" />
<rect x="146.74" y="327.40" width="17.69" height="16.85" fill="#EAA2BA" />
<rect x="164.38" y="327.40" width="17.69" height="16.85" fill="#F0BDCF" />
<rect x="182.02" y="327.40" width="17.69" height="16.85" fill="#F6D9E3" />
<rect x="199.66" y="327.40" width="17.69" height="16.85" fill="#ECADC3" />
<rect x="217.30" y="327.40" width="17.69" height="16.85" fill="#EEB6CA" />
<rect x="40.90" y="344.20" width="17.69" height="16.85" fill="#479ECC" />
<rect x="58.54" y="344.20" width="17.69" height="16.85" fill="#83C0DE" />
<rect x="76.18" y="344.20" width="17.69" height="16.85" fill="#64AED6" />
<rect x="93.82" y="344.20" width="17.69" height="16.85" fill="#64AED6" />
<rect x="111.46" y="344.20" width="17.69" height="16.85" fill="#83C0DE" />
<rect x="129.10" y="344.20" width="17.69" height="16.85" fill="#83C0DE" />
<rect x="146.74" y="344.20" width="17.69" height="16.85" fill="#79BADC" />
<rect x="164.38" y="344.20" width="17.69" height="16.85" fill="#F6D9E3" />
<rect x="182.02" y="344.20" width="17.69" height="16.85" fill="#8EC6E1" />
<rect x="199.66" y="344.20" width="17.69" height="16.85" fill="#8EC6E1" />
<rect x="217.30" y="344.20" width="17.69" height="16.85" fill="#F6D9E3" />
<rect x="40.90" y="361.00" width="17.69" height="16.85" fill="#F1C4D4" />
<rect x="58.54" y="361.00" width="17.69" height="16.85" fill="#8EC6E1" />
<rect x="76.18" y="361.00" width="17.69" height="16.85" fill="#ECADC3" />
<rect x="93.82" y="361.00" width="17.69" height="16.85" fill="#FBECF1" />
<rect x="111.46" y="361.00" width="17.69" height="16.85" fill="#F6FAFD" />
<rect x="129.10" y="361.00" width="17.69" height="16.85" fill="#F6D9E3" />
<rect x="146.74" y="361.00" width="17.69" height="16.85" fill="#ECADC3" />
<rect x="164.38" y="361.00" width="17.69" height="16.85" fill="#D9EDF5" />
<rect x="182.02" y="361.00" width="17.69" height="16.85" fill="#F8E3EA" />
<rect x="199.66" y="361.00" width="17.69" height="16.85" fill="#FDF6F8" />
<rect x="217.30" y="361.00" width="17.69" height="16.85" fill="#F0BDCF" />
<rect x="40.90" y="343.95" width="194.04" height="0.50" fill="#ffffff" opacity="0.16"/>
<rect x="40.90" y="360.75" width="194.04" height="0.50" fill="#ffffff" opacity="0.16"/>
<rect x="58.29" y="327.40" width="0.50" height="50.40" fill="#ffffff" opacity="0.16"/>
<rect x="75.93" y="327.40" width="0.50" height="50.40" fill="#ffffff" opacity="0.16"/>
<rect x="93.57" y="327.40" width="0.50" height="50.40" fill="#ffffff" opacity="0.16"/>
<rect x="111.21" y="327.40" width="0.50" height="50.40" fill="#ffffff" opacity="0.16"/>
<rect x="128.85" y="327.40" width="0.50" height="50.40" fill="#ffffff" opacity="0.16"/>
<rect x="146.49" y="327.40" width="0.50" height="50.40" fill="#ffffff" opacity="0.16"/>
<rect x="164.13" y="327.40" width="0.50" height="50.40" fill="#ffffff" opacity="0.16"/>
<rect x="181.77" y="327.40" width="0.50" height="50.40" fill="#ffffff" opacity="0.16"/>
<rect x="199.41" y="327.40" width="0.50" height="50.40" fill="#ffffff" opacity="0.16"/>
<rect x="217.05" y="327.40" width="0.50" height="50.40" fill="#ffffff" opacity="0.16"/>
<text x="50.47" y="336.07" font-size="6.0" text-anchor="middle" fill="#000" stroke="#000" stroke-width="0.12" letter-spacing="0.5">***</text>
<text x="68.11" y="336.07" font-size="6.0" text-anchor="middle" fill="#000" stroke="#000" stroke-width="0.12" letter-spacing="0.5">*</text>
<text x="85.75" y="336.07" font-size="6.0" text-anchor="middle" fill="#000" stroke="#000" stroke-width="0.12" letter-spacing="0.5">*</text>
<text x="121.03" y="336.07" font-size="6.0" text-anchor="middle" fill="#000" stroke="#000" stroke-width="0.12" letter-spacing="0.5">*</text>
<text x="138.67" y="336.07" font-size="6.0" text-anchor="middle" fill="#000" stroke="#000" stroke-width="0.12" letter-spacing="0.5">*</text>
<text x="50.47" y="352.97" font-size="6.0" text-anchor="middle" fill="#000" stroke="#000" stroke-width="0.12" letter-spacing="0.5">***</text>
<text x="68.11" y="352.97" font-size="6.0" text-anchor="middle" fill="#000" stroke="#000" stroke-width="0.12" letter-spacing="0.5">*</text>
<text x="85.75" y="352.97" font-size="6.0" text-anchor="middle" fill="#000" stroke="#000" stroke-width="0.12" letter-spacing="0.5">*</text>
<text x="103.39" y="352.97" font-size="6.0" text-anchor="middle" fill="#000" stroke="#000" stroke-width="0.12" letter-spacing="0.5">*</text>
<text x="121.03" y="352.97" font-size="6.0" text-anchor="middle" fill="#000" stroke="#000" stroke-width="0.12" letter-spacing="0.5">*</text>
<text x="138.67" y="352.97" font-size="6.0" text-anchor="middle" fill="#000" stroke="#000" stroke-width="0.12" letter-spacing="0.5">*</text>
<text x="156.31" y="352.97" font-size="6.0" text-anchor="middle" fill="#000" stroke="#000" stroke-width="0.12" letter-spacing="0.5">*</text>
<text x="209.23" y="352.97" font-size="6.0" text-anchor="middle" fill="#000" stroke="#000" stroke-width="0.12" letter-spacing="0.5">*</text>
<text x="68.11" y="369.87" font-size="6.0" text-anchor="middle" fill="#000" stroke="#000" stroke-width="0.12" letter-spacing="0.5">*</text>
<text x="37.50" y="339.00" font-size="9.0" text-anchor="end" fill="#000" stroke="#000" stroke-width="0.12" >TCDCA</text>
<text x="37.50" y="355.80" font-size="9.0" text-anchor="end" fill="#000" stroke="#000" stroke-width="0.12" >TUDCA</text>
<text x="37.50" y="372.60" font-size="9.0" text-anchor="end" fill="#000" stroke="#000" stroke-width="0.12" >TLCA</text>
<text transform="translate(53.02,383.60) rotate(-90)" font-size="9.0" text-anchor="end" fill="#000" stroke="#000" stroke-width="0.12">CCL3</text>
<text transform="translate(70.66,383.60) rotate(-90)" font-size="9.0" text-anchor="end" fill="#000" stroke="#000" stroke-width="0.12">CCL4</text>
<text transform="translate(88.30,383.60) rotate(-90)" font-size="9.0" text-anchor="end" fill="#000" stroke="#000" stroke-width="0.12">CD14</text>
<text transform="translate(105.94,383.60) rotate(-90)" font-size="9.0" text-anchor="end" fill="#000" stroke="#000" stroke-width="0.12">CCL4L2</text>
<text transform="translate(123.58,383.60) rotate(-90)" font-size="9.0" text-anchor="end" fill="#000" stroke="#000" stroke-width="0.12">TLR3</text>
<text transform="translate(141.22,383.60) rotate(-90)" font-size="9.0" text-anchor="end" fill="#000" stroke="#000" stroke-width="0.12">TNF-α</text>
<text transform="translate(158.86,383.60) rotate(-90)" font-size="9.0" text-anchor="end" fill="#000" stroke="#000" stroke-width="0.12">IL1β</text>
<text transform="translate(176.50,383.60) rotate(-90)" font-size="9.0" text-anchor="end" fill="#000" stroke="#000" stroke-width="0.12">PIK3R1</text>
<text transform="translate(194.14,383.60) rotate(-90)" font-size="9.0" text-anchor="end" fill="#000" stroke="#000" stroke-width="0.12">CTSK</text>
<text transform="translate(211.78,383.60) rotate(-90)" font-size="9.0" text-anchor="end" fill="#000" stroke="#000" stroke-width="0.12">CXCL8</text>
<text transform="translate(229.42,383.60) rotate(-90)" font-size="9.0" text-anchor="end" fill="#000" stroke="#000" stroke-width="0.12">IL6</text>
<defs><linearGradient id="g506" x1="0" y1="0" x2="0" y2="1"><stop offset="0.0317" stop-color="#F07FA5"/><stop offset="0.0703" stop-color="#F188AB"/><stop offset="0.1089" stop-color="#F290B1"/><stop offset="0.1475" stop-color="#F299B7"/><stop offset="0.1861" stop-color="#F3A2BD"/><stop offset="0.2248" stop-color="#F4AAC3"/><stop offset="0.2634" stop-color="#F5B3C9"/><stop offset="0.3020" stop-color="#F7C0D2"/><stop offset="0.3406" stop-color="#F8CCDB"/><stop offset="0.3792" stop-color="#FAD9E4"/><stop offset="0.4178" stop-color="#FCE6ED"/><stop offset="0.4564" stop-color="#FDF2F6"/><stop offset="0.4950" stop-color="#FFFFFF"/><stop offset="0.5337" stop-color="#EDF7FA"/><stop offset="0.5723" stop-color="#DBEEF5"/><stop offset="0.6109" stop-color="#C9E6F0"/><stop offset="0.6495" stop-color="#B7DEEB"/><stop offset="0.6881" stop-color="#A5D5E6"/><stop offset="0.7267" stop-color="#93CDE1"/><stop offset="0.7653" stop-color="#82C6DD"/><stop offset="0.8040" stop-color="#70BFD9"/><stop offset="0.8426" stop-color="#5FB8D4"/><stop offset="0.8812" stop-color="#4EB0D0"/><stop offset="0.9198" stop-color="#3CA9CC"/><stop offset="0.9584" stop-color="#2BA2C8"/></linearGradient></defs>
<rect x="243.50" y="327.80" width="10.60" height="50.50" fill="url(#g506)" />
<rect x="244.10" y="329.05" width="2.20" height="0.70" fill="#ffffff" opacity="0.8"/>
<rect x="251.30" y="329.05" width="2.20" height="0.70" fill="#ffffff" opacity="0.8"/>
<rect x="244.10" y="344.65" width="2.20" height="0.70" fill="#ffffff" opacity="0.8"/>
<rect x="251.30" y="344.65" width="2.20" height="0.70" fill="#ffffff" opacity="0.8"/>
<rect x="244.10" y="360.25" width="2.20" height="0.70" fill="#ffffff" opacity="0.8"/>
<rect x="251.30" y="360.25" width="2.20" height="0.70" fill="#ffffff" opacity="0.8"/>
<rect x="244.10" y="375.85" width="2.20" height="0.70" fill="#ffffff" opacity="0.8"/>
<rect x="251.30" y="375.85" width="2.20" height="0.70" fill="#ffffff" opacity="0.8"/>
<text x="256.00" y="332.60" font-size="9.0" text-anchor="start" fill="#000" stroke="#000" stroke-width="0.12" >1</text>
<text x="256.00" y="344.30" font-size="9.0" text-anchor="start" fill="#000" stroke="#000" stroke-width="0.12" >0.5</text>
<text x="256.00" y="356.00" font-size="9.0" text-anchor="start" fill="#000" stroke="#000" stroke-width="0.12" >0</text>
<text x="256.00" y="367.70" font-size="9.0" text-anchor="start" fill="#000" stroke="#000" stroke-width="0.12" >-0.5</text>
<text x="256.00" y="379.40" font-size="9.0" text-anchor="start" fill="#000" stroke="#000" stroke-width="0.12" >-1</text>
<text x="243.00" y="386.70" font-size="8.9" text-anchor="start" fill="#000" stroke="#000" stroke-width="0.12" >corr</text>
<text x="7.35" y="438.10" font-size="11" text-anchor="start" fill="#000" stroke="#000" stroke-width="0.12" >D</text>
<text x="40.80" y="431.60" font-size="10.05" text-anchor="start" fill="#000" stroke="#000" stroke-width="0.12" >Correlation analysis between differential urinary</text>
<text x="40.80" y="443.40" font-size="10.05" text-anchor="start" fill="#000" stroke="#000" stroke-width="0.12" >metabolites and the tight junction signaling pathway</text>
<rect x="40.90" y="450.00" width="17.75" height="17.15" fill="#479ECC" />
<rect x="58.60" y="450.00" width="17.75" height="17.15" fill="#64AED6" />
<rect x="76.30" y="450.00" width="17.75" height="17.15" fill="#98CCE4" />
<rect x="94.00" y="450.00" width="17.75" height="17.15" fill="#6EB4D9" />
<rect x="111.70" y="450.00" width="17.75" height="17.15" fill="#A3D2E7" />
<rect x="129.40" y="450.00" width="17.75" height="17.15" fill="#D0E8F3" />
<rect x="147.10" y="450.00" width="17.75" height="17.15" fill="#D9EDF5" />
<rect x="164.80" y="450.00" width="17.75" height="17.15" fill="#BADDED" />
<rect x="182.50" y="450.00" width="17.75" height="17.15" fill="#F0F8FB" />
<rect x="200.20" y="450.00" width="17.75" height="17.15" fill="#FBF0F4" />
<rect x="217.90" y="450.00" width="17.75" height="17.15" fill="#DDEEF6" />
<rect x="40.90" y="467.10" width="17.75" height="17.15" fill="#CF4473" />
<rect x="58.60" y="467.10" width="17.75" height="17.15" fill="#D85E89" />
<rect x="76.30" y="467.10" width="17.75" height="17.15" fill="#E282A4" />
<rect x="94.00" y="467.10" width="17.75" height="17.15" fill="#DC6C94" />
<rect x="111.70" y="467.10" width="17.75" height="17.15" fill="#DF789C" />
<rect x="129.40" y="467.10" width="17.75" height="17.15" fill="#E693B0" />
<rect x="147.10" y="467.10" width="17.75" height="17.15" fill="#F4D0DC" />
<rect x="164.80" y="467.10" width="17.75" height="17.15" fill="#F6FAFD" />
<rect x="182.50" y="467.10" width="17.75" height="17.15" fill="#EFB9CB" />
<rect x="200.20" y="467.10" width="17.75" height="17.15" fill="#E3F1F8" />
<rect x="217.90" y="467.10" width="17.75" height="17.15" fill="#F6FAFD" />
<rect x="40.90" y="484.20" width="17.75" height="17.15" fill="#ECF6FA" />
<rect x="58.60" y="484.20" width="17.75" height="17.15" fill="#FDF6F8" />
<rect x="76.30" y="484.20" width="17.75" height="17.15" fill="#F0F8FB" />
<rect x="94.00" y="484.20" width="17.75" height="17.15" fill="#F9FCFE" />
<rect x="111.70" y="484.20" width="17.75" height="17.15" fill="#F9FCFE" />
<rect x="129.40" y="484.20" width="17.75" height="17.15" fill="#FDF6F8" />
<rect x="147.10" y="484.20" width="17.75" height="17.15" fill="#F6FAFD" />
<rect x="164.80" y="484.20" width="17.75" height="17.15" fill="#D9EDF5" />
<rect x="182.50" y="484.20" width="17.75" height="17.15" fill="#FBF0F4" />
<rect x="200.20" y="484.20" width="17.75" height="17.15" fill="#F9FCFE" />
<rect x="217.90" y="484.20" width="17.75" height="17.15" fill="#D9628C" />
<rect x="40.90" y="466.85" width="194.70" height="0.50" fill="#ffffff" opacity="0.16"/>
<rect x="40.90" y="483.95" width="194.70" height="0.50" fill="#ffffff" opacity="0.16"/>
<rect x="58.35" y="450.00" width="0.50" height="51.30" fill="#ffffff" opacity="0.16"/>
<rect x="76.05" y="450.00" width="0.50" height="51.30" fill="#ffffff" opacity="0.16"/>
<rect x="93.75" y="450.00" width="0.50" height="51.30" fill="#ffffff" opacity="0.16"/>
<rect x="111.45" y="450.00" width="0.50" height="51.30" fill="#ffffff" opacity="0.16"/>
<rect x="129.15" y="450.00" width="0.50" height="51.30" fill="#ffffff" opacity="0.16"/>
<rect x="146.85" y="450.00" width="0.50" height="51.30" fill="#ffffff" opacity="0.16"/>
<rect x="164.55" y="450.00" width="0.50" height="51.30" fill="#ffffff" opacity="0.16"/>
<rect x="182.25" y="450.00" width="0.50" height="51.30" fill="#ffffff" opacity="0.16"/>
<rect x="199.95" y="450.00" width="0.50" height="51.30" fill="#ffffff" opacity="0.16"/>
<rect x="217.65" y="450.00" width="0.50" height="51.30" fill="#ffffff" opacity="0.16"/>
<text x="49.20" y="457.47" font-size="6.0" text-anchor="middle" fill="#000" stroke="#000" stroke-width="0.12" letter-spacing="0.5">***</text>
<text x="65.80" y="457.47" font-size="6.0" text-anchor="middle" fill="#000" stroke="#000" stroke-width="0.12" letter-spacing="0.5">**</text>
<text x="84.80" y="457.47" font-size="6.0" text-anchor="middle" fill="#000" stroke="#000" stroke-width="0.12" letter-spacing="0.5">*</text>
<text x="101.20" y="457.47" font-size="6.0" text-anchor="middle" fill="#000" stroke="#000" stroke-width="0.12" letter-spacing="0.5">**</text>
<text x="120.20" y="457.47" font-size="6.0" text-anchor="middle" fill="#000" stroke="#000" stroke-width="0.12" letter-spacing="0.5">*</text>
<text x="48.10" y="475.07" font-size="6.0" text-anchor="middle" fill="#000" stroke="#000" stroke-width="0.12" letter-spacing="0.5">**</text>
<text x="65.80" y="475.07" font-size="6.0" text-anchor="middle" fill="#000" stroke="#000" stroke-width="0.12" letter-spacing="0.5">**</text>
<text x="102.50" y="475.07" font-size="6.0" text-anchor="middle" fill="#000" stroke="#000" stroke-width="0.12" letter-spacing="0.5">*</text>
<text x="120.20" y="475.07" font-size="6.0" text-anchor="middle" fill="#000" stroke="#000" stroke-width="0.12" letter-spacing="0.5">*</text>
<text x="226.20" y="492.67" font-size="6.0" text-anchor="middle" fill="#000" stroke="#000" stroke-width="0.12" letter-spacing="0.5">***</text>
<text x="37.00" y="462.05" font-size="9.0" text-anchor="end" fill="#000" stroke="#000" stroke-width="0.12" >TCDCA</text>
<text x="37.00" y="479.15" font-size="9.0" text-anchor="end" fill="#000" stroke="#000" stroke-width="0.12" >TUDCA</text>
<text x="37.00" y="496.25" font-size="9.0" text-anchor="end" fill="#000" stroke="#000" stroke-width="0.12" >TLCA</text>
<text transform="translate(53.05,507.90) rotate(-90)" font-size="9.0" text-anchor="end" fill="#000" stroke="#000" stroke-width="0.12">ZO1</text>
<text transform="translate(70.75,507.90) rotate(-90)" font-size="9.0" text-anchor="end" fill="#000" stroke="#000" stroke-width="0.12">RAC1</text>
<text transform="translate(88.45,507.90) rotate(-90)" font-size="9.0" text-anchor="end" fill="#000" stroke="#000" stroke-width="0.12">JUN</text>
<text transform="translate(106.15,507.90) rotate(-90)" font-size="9.0" text-anchor="end" fill="#000" stroke="#000" stroke-width="0.12">ITGA1</text>
<text transform="translate(123.85,507.90) rotate(-90)" font-size="9.0" text-anchor="end" fill="#000" stroke="#000" stroke-width="0.12">RHOA</text>
<text transform="translate(141.55,507.90) rotate(-90)" font-size="9.0" text-anchor="end" fill="#000" stroke="#000" stroke-width="0.12">ACTG2</text>
<text transform="translate(159.25,507.90) rotate(-90)" font-size="9.0" text-anchor="end" fill="#000" stroke="#000" stroke-width="0.12">MYL6</text>
<text transform="translate(176.95,507.90) rotate(-90)" font-size="9.0" text-anchor="end" fill="#000" stroke="#000" stroke-width="0.12">ACTB</text>
<text transform="translate(194.65,507.90) rotate(-90)" font-size="9.0" text-anchor="end" fill="#000" stroke="#000" stroke-width="0.12">PARD3</text>
<text transform="translate(212.35,507.90) rotate(-90)" font-size="9.0" text-anchor="end" fill="#000" stroke="#000" stroke-width="0.12">TUBA1C</text>
<text transform="translate(230.05,507.90) rotate(-90)" font-size="9.0" text-anchor="end" fill="#000" stroke="#000" stroke-width="0.12">PRKG1</text>
<defs><linearGradient id="g594" x1="0" y1="0" x2="0" y2="1"><stop offset="0.0405" stop-color="#F07FA5"/><stop offset="0.0785" stop-color="#F188AB"/><stop offset="0.1166" stop-color="#F290B1"/><stop offset="0.1546" stop-color="#F299B7"/><stop offset="0.1927" stop-color="#F3A2BD"/><stop offset="0.2307" stop-color="#F4AAC3"/><stop offset="0.2688" stop-color="#F5B3C9"/><stop offset="0.3068" stop-color="#F7C0D2"/><stop offset="0.3449" stop-color="#F8CCDB"/><stop offset="0.3829" stop-color="#FAD9E4"/><stop offset="0.4210" stop-color="#FCE6ED"/><stop offset="0.4591" stop-color="#FDF2F6"/><stop offset="0.4971" stop-color="#FFFFFF"/><stop offset="0.5352" stop-color="#EDF7FA"/><stop offset="0.5732" stop-color="#DBEEF5"/><stop offset="0.6113" stop-color="#C9E6F0"/><stop offset="0.6493" stop-color="#B7DEEB"/><stop offset="0.6874" stop-color="#A5D5E6"/><stop offset="0.7254" stop-color="#93CDE1"/><stop offset="0.7635" stop-color="#82C6DD"/><stop offset="0.8015" stop-color="#70BFD9"/><stop offset="0.8396" stop-color="#5FB8D4"/><stop offset="0.8776" stop-color="#4EB0D0"/><stop offset="0.9157" stop-color="#3CA9CC"/><stop offset="0.9538" stop-color="#2BA2C8"/></linearGradient></defs>
<rect x="243.80" y="450.00" width="10.30" height="51.90" fill="url(#g594)" />
<rect x="244.40" y="451.75" width="2.20" height="0.70" fill="#ffffff" opacity="0.8"/>
<rect x="251.30" y="451.75" width="2.20" height="0.70" fill="#ffffff" opacity="0.8"/>
<rect x="244.40" y="467.55" width="2.20" height="0.70" fill="#ffffff" opacity="0.8"/>
<rect x="251.30" y="467.55" width="2.20" height="0.70" fill="#ffffff" opacity="0.8"/>
<rect x="244.40" y="483.35" width="2.20" height="0.70" fill="#ffffff" opacity="0.8"/>
<rect x="251.30" y="483.35" width="2.20" height="0.70" fill="#ffffff" opacity="0.8"/>
<rect x="244.40" y="499.15" width="2.20" height="0.70" fill="#ffffff" opacity="0.8"/>
<rect x="251.30" y="499.15" width="2.20" height="0.70" fill="#ffffff" opacity="0.8"/>
<text x="256.00" y="455.30" font-size="9.0" text-anchor="start" fill="#000" stroke="#000" stroke-width="0.12" >1</text>
<text x="256.00" y="467.15" font-size="9.0" text-anchor="start" fill="#000" stroke="#000" stroke-width="0.12" >0.5</text>
<text x="256.00" y="479.00" font-size="9.0" text-anchor="start" fill="#000" stroke="#000" stroke-width="0.12" >0</text>
<text x="256.00" y="490.85" font-size="9.0" text-anchor="start" fill="#000" stroke="#000" stroke-width="0.12" >-0.5</text>
<text x="256.00" y="502.70" font-size="9.0" text-anchor="start" fill="#000" stroke="#000" stroke-width="0.12" >-1</text>
<text x="243.00" y="510.40" font-size="8.9" text-anchor="start" fill="#000" stroke="#000" stroke-width="0.12" >corr</text>
<text x="355.05" y="315.90" font-size="11" text-anchor="start" fill="#000" stroke="#000" stroke-width="0.12" >E</text>
<text x="392.80" y="309.20" font-size="10.05" text-anchor="start" fill="#000" stroke="#000" stroke-width="0.12" >Correlation analysis between differential microbial species</text>
<text x="392.80" y="321.00" font-size="10.05" text-anchor="start" fill="#000" stroke="#000" stroke-width="0.12" >and the Toll-like receptor signaling pathway</text>
<rect x="414.20" y="327.80" width="17.31" height="12.83" fill="#D88273" />
<rect x="431.46" y="327.80" width="17.31" height="12.83" fill="#CD5D4C" />
<rect x="448.72" y="327.80" width="17.31" height="12.83" fill="#EEC4BD" />
<rect x="465.98" y="327.80" width="17.31" height="12.83" fill="#639ABB" />
<rect x="483.24" y="327.80" width="17.31" height="12.83" fill="#A0C3D6" />
<rect x="500.50" y="327.80" width="17.31" height="12.83" fill="#94BBD1" />
<rect x="517.76" y="327.80" width="17.31" height="12.83" fill="#6FA2C0" />
<rect x="535.02" y="327.80" width="17.31" height="12.83" fill="#D9E8EF" />
<rect x="552.28" y="327.80" width="17.31" height="12.83" fill="#D9E8EF" />
<rect x="414.20" y="340.58" width="17.31" height="12.83" fill="#E3A599" />
<rect x="431.46" y="340.58" width="17.31" height="12.83" fill="#E7AFA5" />
<rect x="448.72" y="340.58" width="17.31" height="12.83" fill="#F9ECE9" />
<rect x="465.98" y="340.58" width="17.31" height="12.83" fill="#94BBD1" />
<rect x="483.24" y="340.58" width="17.31" height="12.83" fill="#A0C3D6" />
<rect x="500.50" y="340.58" width="17.31" height="12.83" fill="#94BBD1" />
<rect x="517.76" y="340.58" width="17.31" height="12.83" fill="#D9E8EF" />
<rect x="535.02" y="340.58" width="17.31" height="12.83" fill="#FDF9F9" />
<rect x="552.28" y="340.58" width="17.31" height="12.83" fill="#F0F6F9" />
<rect x="414.20" y="353.36" width="17.31" height="12.83" fill="#E3A599" />
<rect x="431.46" y="353.36" width="17.31" height="12.83" fill="#ECF3F7" />
<rect x="448.72" y="353.36" width="17.31" height="12.83" fill="#F4D9D4" />
<rect x="465.98" y="353.36" width="17.31" height="12.83" fill="#6FA2C0" />
<rect x="483.24" y="353.36" width="17.31" height="12.83" fill="#F1CFC9" />
<rect x="500.50" y="353.36" width="17.31" height="12.83" fill="#F5F9FB" />
<rect x="517.76" y="353.36" width="17.31" height="12.83" fill="#D9E8EF" />
<rect x="535.02" y="353.36" width="17.31" height="12.83" fill="#E2EEF3" />
<rect x="552.28" y="353.36" width="17.31" height="12.83" fill="#E2EEF3" />
<rect x="414.20" y="366.14" width="17.31" height="12.83" fill="#E3A599" />
<rect x="431.46" y="366.14" width="17.31" height="12.83" fill="#EABAB1" />
<rect x="448.72" y="366.14" width="17.31" height="12.83" fill="#F8E8E5" />
<rect x="465.98" y="366.14" width="17.31" height="12.83" fill="#6FA2C0" />
<rect x="483.24" y="366.14" width="17.31" height="12.83" fill="#A0C3D6" />
<rect x="500.50" y="366.14" width="17.31" height="12.83" fill="#88B3CB" />
<rect x="517.76" y="366.14" width="17.31" height="12.83" fill="#F8E8E5" />
<rect x="535.02" y="366.14" width="17.31" height="12.83" fill="#CFE2EB" />
<rect x="552.28" y="366.14" width="17.31" height="12.83" fill="#F5F9FB" />
<rect x="414.20" y="378.92" width="17.31" height="12.83" fill="#CD5D4C" />
<rect x="431.46" y="378.92" width="17.31" height="12.83" fill="#EABAB1" />
<rect x="448.72" y="378.92" width="17.31" height="12.83" fill="#D9E8EF" />
<rect x="465.98" y="378.92" width="17.31" height="12.83" fill="#F0F6F9" />
<rect x="483.24" y="378.92" width="17.31" height="12.83" fill="#F4D9D4" />
<rect x="500.50" y="378.92" width="17.31" height="12.83" fill="#94BBD1" />
<rect x="517.76" y="378.92" width="17.31" height="12.83" fill="#ACCBDB" />
<rect x="535.02" y="378.92" width="17.31" height="12.83" fill="#E2EEF3" />
<rect x="552.28" y="378.92" width="17.31" height="12.83" fill="#FDF9F9" />
<rect x="414.20" y="391.70" width="17.31" height="12.83" fill="#D57566" />
<rect x="431.46" y="391.70" width="17.31" height="12.83" fill="#D88273" />
<rect x="448.72" y="391.70" width="17.31" height="12.83" fill="#E3A599" />
<rect x="465.98" y="391.70" width="17.31" height="12.83" fill="#88B3CB" />
<rect x="483.24" y="391.70" width="17.31" height="12.83" fill="#A0C3D6" />
<rect x="500.50" y="391.70" width="17.31" height="12.83" fill="#EABAB1" />
<rect x="517.76" y="391.70" width="17.31" height="12.83" fill="#FEFDFD" />
<rect x="535.02" y="391.70" width="17.31" height="12.83" fill="#B7D2E1" />
<rect x="552.28" y="391.70" width="17.31" height="12.83" fill="#E8F1F5" />
<rect x="414.20" y="404.48" width="17.31" height="12.83" fill="#DC8E80" />
<rect x="431.46" y="404.48" width="17.31" height="12.83" fill="#D88273" />
<rect x="448.72" y="404.48" width="17.31" height="12.83" fill="#D9E8EF" />
<rect x="465.98" y="404.48" width="17.31" height="12.83" fill="#EEC4BD" />
<rect x="483.24" y="404.48" width="17.31" height="12.83" fill="#A0C3D6" />
<rect x="500.50" y="404.48" width="17.31" height="12.83" fill="#88B3CB" />
<rect x="517.76" y="404.48" width="17.31" height="12.83" fill="#94BBD1" />
<rect x="535.02" y="404.48" width="17.31" height="12.83" fill="#FEFDFD" />
<rect x="552.28" y="404.48" width="17.31" height="12.83" fill="#E8F1F5" />
<rect x="414.20" y="417.26" width="17.31" height="12.83" fill="#F9FCFD" />
<rect x="431.46" y="417.26" width="17.31" height="12.83" fill="#EEC4BD" />
<rect x="448.72" y="417.26" width="17.31" height="12.83" fill="#FEFDFD" />
<rect x="465.98" y="417.26" width="17.31" height="12.83" fill="#88B3CB" />
<rect x="483.24" y="417.26" width="17.31" height="12.83" fill="#A0C3D6" />
<rect x="500.50" y="417.26" width="17.31" height="12.83" fill="#E8F1F5" />
<rect x="517.76" y="417.26" width="17.31" height="12.83" fill="#D5E5ED" />
<rect x="535.02" y="417.26" width="17.31" height="12.83" fill="#FEFDFD" />
<rect x="552.28" y="417.26" width="17.31" height="12.83" fill="#F5F9FB" />
<rect x="414.20" y="430.04" width="17.31" height="12.83" fill="#EABAB1" />
<rect x="431.46" y="430.04" width="17.31" height="12.83" fill="#F5F9FB" />
<rect x="448.72" y="430.04" width="17.31" height="12.83" fill="#EEC4BD" />
<rect x="465.98" y="430.04" width="17.31" height="12.83" fill="#EEC4BD" />
<rect x="483.24" y="430.04" width="17.31" height="12.83" fill="#A0C3D6" />
<rect x="500.50" y="430.04" width="17.31" height="12.83" fill="#88B3CB" />
<rect x="517.76" y="430.04" width="17.31" height="12.83" fill="#D9E8EF" />
<rect x="535.02" y="430.04" width="17.31" height="12.83" fill="#F0F6F9" />
<rect x="552.28" y="430.04" width="17.31" height="12.83" fill="#C3DAE6" />
<rect x="414.20" y="442.82" width="17.31" height="12.83" fill="#ECF3F7" />
<rect x="431.46" y="442.82" width="17.31" height="12.83" fill="#EABAB1" />
<rect x="448.72" y="442.82" width="17.31" height="12.83" fill="#F1CFC9" />
<rect x="465.98" y="442.82" width="17.31" height="12.83" fill="#88B3CB" />
<rect x="483.24" y="442.82" width="17.31" height="12.83" fill="#F5F9FB" />
<rect x="500.50" y="442.82" width="17.31" height="12.83" fill="#88B3CB" />
<rect x="517.76" y="442.82" width="17.31" height="12.83" fill="#BCD6E3" />
<rect x="535.02" y="442.82" width="17.31" height="12.83" fill="#DCEAF1" />
<rect x="552.28" y="442.82" width="17.31" height="12.83" fill="#F0F6F9" />
<rect x="414.20" y="455.60" width="17.31" height="12.83" fill="#EABAB1" />
<rect x="431.46" y="455.60" width="17.31" height="12.83" fill="#ECF3F7" />
<rect x="448.72" y="455.60" width="17.31" height="12.83" fill="#D9E8EF" />
<rect x="465.98" y="455.60" width="17.31" height="12.83" fill="#F5F9FB" />
<rect x="483.24" y="455.60" width="17.31" height="12.83" fill="#A0C3D6" />
<rect x="500.50" y="455.60" width="17.31" height="12.83" fill="#EEC4BD" />
<rect x="517.76" y="455.60" width="17.31" height="12.83" fill="#F5F9FB" />
<rect x="535.02" y="455.60" width="17.31" height="12.83" fill="#C3DAE6" />
<rect x="552.28" y="455.60" width="17.31" height="12.83" fill="#FEFDFD" />
<rect x="414.20" y="340.33" width="155.34" height="0.50" fill="#ffffff" opacity="0.16"/>
<rect x="414.20" y="353.11" width="155.34" height="0.50" fill="#ffffff" opacity="0.16"/>
<rect x="414.20" y="365.89" width="155.34" height="0.50" fill="#ffffff" opacity="0.16"/>
<rect x="414.20" y="378.67" width="155.34" height="0.50" fill="#ffffff" opacity="0.16"/>
<rect x="414.20" y="391.45" width="155.34" height="0.50" fill="#ffffff" opacity="0.16"/>
<rect x="414.20" y="404.23" width="155.34" height="0.50" fill="#ffffff" opacity="0.16"/>
<rect x="414.20" y="417.01" width="155.34" height="0.50" fill="#ffffff" opacity="0.16"/>
<rect x="414.20" y="429.79" width="155.34" height="0.50" fill="#ffffff" opacity="0.16"/>
<rect x="414.20" y="442.57" width="155.34" height="0.50" fill="#ffffff" opacity="0.16"/>
<rect x="414.20" y="455.35" width="155.34" height="0.50" fill="#ffffff" opacity="0.16"/>
<rect x="431.21" y="327.80" width="0.50" height="140.58" fill="#ffffff" opacity="0.16"/>
<rect x="448.47" y="327.80" width="0.50" height="140.58" fill="#ffffff" opacity="0.16"/>
<rect x="465.73" y="327.80" width="0.50" height="140.58" fill="#ffffff" opacity="0.16"/>
<rect x="482.99" y="327.80" width="0.50" height="140.58" fill="#ffffff" opacity="0.16"/>
<rect x="500.25" y="327.80" width="0.50" height="140.58" fill="#ffffff" opacity="0.16"/>
<rect x="517.51" y="327.80" width="0.50" height="140.58" fill="#ffffff" opacity="0.16"/>
<rect x="534.77" y="327.80" width="0.50" height="140.58" fill="#ffffff" opacity="0.16"/>
<rect x="552.03" y="327.80" width="0.50" height="140.58" fill="#ffffff" opacity="0.16"/>
<text x="423.58" y="336.67" font-size="6.0" text-anchor="middle" fill="#000" stroke="#000" stroke-width="0.12" letter-spacing="0.5">**</text>
<text x="440.84" y="336.67" font-size="6.0" text-anchor="middle" fill="#000" stroke="#000" stroke-width="0.12" letter-spacing="0.5">***</text>
<text x="475.36" y="336.67" font-size="6.0" text-anchor="middle" fill="#000" stroke="#000" stroke-width="0.12" letter-spacing="0.5">***</text>
<text x="509.88" y="336.67" font-size="6.0" text-anchor="middle" fill="#000" stroke="#000" stroke-width="0.12" letter-spacing="0.5">*</text>
<text x="527.14" y="336.67" font-size="6.0" text-anchor="middle" fill="#000" stroke="#000" stroke-width="0.12" letter-spacing="0.5">**</text>
<text x="423.58" y="349.28" font-size="6.0" text-anchor="middle" fill="#000" stroke="#000" stroke-width="0.12" letter-spacing="0.5">*</text>
<text x="440.84" y="349.28" font-size="6.0" text-anchor="middle" fill="#000" stroke="#000" stroke-width="0.12" letter-spacing="0.5">*</text>
<text x="509.88" y="349.28" font-size="6.0" text-anchor="middle" fill="#000" stroke="#000" stroke-width="0.12" letter-spacing="0.5">*</text>
<text x="423.58" y="361.89" font-size="6.0" text-anchor="middle" fill="#000" stroke="#000" stroke-width="0.12" letter-spacing="0.5">*</text>
<text x="475.36" y="361.89" font-size="6.0" text-anchor="middle" fill="#000" stroke="#000" stroke-width="0.12" letter-spacing="0.5">***</text>
<text x="423.58" y="374.50" font-size="6.0" text-anchor="middle" fill="#000" stroke="#000" stroke-width="0.12" letter-spacing="0.5">*</text>
<text x="440.84" y="374.50" font-size="6.0" text-anchor="middle" fill="#000" stroke="#000" stroke-width="0.12" letter-spacing="0.5">*</text>
<text x="475.36" y="374.50" font-size="6.0" text-anchor="middle" fill="#000" stroke="#000" stroke-width="0.12" letter-spacing="0.5">**</text>
<text x="509.88" y="374.50" font-size="6.0" text-anchor="middle" fill="#000" stroke="#000" stroke-width="0.12" letter-spacing="0.5">**</text>
<text x="423.58" y="387.11" font-size="6.0" text-anchor="middle" fill="#000" stroke="#000" stroke-width="0.12" letter-spacing="0.5">***</text>
<text x="509.88" y="387.11" font-size="6.0" text-anchor="middle" fill="#000" stroke="#000" stroke-width="0.12" letter-spacing="0.5">*</text>
<text x="423.58" y="399.72" font-size="6.0" text-anchor="middle" fill="#000" stroke="#000" stroke-width="0.12" letter-spacing="0.5">**</text>
<text x="440.84" y="399.72" font-size="6.0" text-anchor="middle" fill="#000" stroke="#000" stroke-width="0.12" letter-spacing="0.5">**</text>
<text x="458.10" y="399.72" font-size="6.0" text-anchor="middle" fill="#000" stroke="#000" stroke-width="0.12" letter-spacing="0.5">*</text>
<text x="475.36" y="399.72" font-size="6.0" text-anchor="middle" fill="#000" stroke="#000" stroke-width="0.12" letter-spacing="0.5">*</text>
<text x="423.58" y="412.33" font-size="6.0" text-anchor="middle" fill="#000" stroke="#000" stroke-width="0.12" letter-spacing="0.5">*</text>
<text x="440.84" y="412.33" font-size="6.0" text-anchor="middle" fill="#000" stroke="#000" stroke-width="0.12" letter-spacing="0.5">**</text>
<text x="509.88" y="412.33" font-size="6.0" text-anchor="middle" fill="#000" stroke="#000" stroke-width="0.12" letter-spacing="0.5">**</text>
<text x="527.14" y="412.33" font-size="6.0" text-anchor="middle" fill="#000" stroke="#000" stroke-width="0.12" letter-spacing="0.5">*</text>
<text x="475.36" y="424.94" font-size="6.0" text-anchor="middle" fill="#000" stroke="#000" stroke-width="0.12" letter-spacing="0.5">**</text>
<text x="423.58" y="437.55" font-size="6.0" text-anchor="middle" fill="#000" stroke="#000" stroke-width="0.12" letter-spacing="0.5">*</text>
<text x="492.62" y="437.55" font-size="6.0" text-anchor="middle" fill="#000" stroke="#000" stroke-width="0.12" letter-spacing="0.5">*</text>
<text x="509.88" y="437.55" font-size="6.0" text-anchor="middle" fill="#000" stroke="#000" stroke-width="0.12" letter-spacing="0.5">**</text>
<text x="475.36" y="450.16" font-size="6.0" text-anchor="middle" fill="#000" stroke="#000" stroke-width="0.12" letter-spacing="0.5">**</text>
<text x="509.88" y="450.16" font-size="6.0" text-anchor="middle" fill="#000" stroke="#000" stroke-width="0.12" letter-spacing="0.5">**</text>
<text x="409.50" y="338.09" font-size="9.0" text-anchor="end" fill="#000" stroke="#000" stroke-width="0.12" >CCL3</text>
<text x="409.50" y="350.87" font-size="9.0" text-anchor="end" fill="#000" stroke="#000" stroke-width="0.12" >CCL4</text>
<text x="409.50" y="363.65" font-size="9.0" text-anchor="end" fill="#000" stroke="#000" stroke-width="0.12" >CD14</text>
<text x="409.50" y="376.43" font-size="9.0" text-anchor="end" fill="#000" stroke="#000" stroke-width="0.12" >CCL4L2</text>
<text x="409.50" y="389.21" font-size="9.0" text-anchor="end" fill="#000" stroke="#000" stroke-width="0.12" >TLR3</text>
<text x="409.50" y="401.99" font-size="9.0" text-anchor="end" fill="#000" stroke="#000" stroke-width="0.12" >TNF-α</text>
<text x="409.50" y="414.77" font-size="9.0" text-anchor="end" fill="#000" stroke="#000" stroke-width="0.12" >IL1β</text>
<text x="409.50" y="427.55" font-size="9.0" text-anchor="end" fill="#000" stroke="#000" stroke-width="0.12" >PIK3R1</text>
<text x="409.50" y="440.33" font-size="9.0" text-anchor="end" fill="#000" stroke="#000" stroke-width="0.12" >CTSK</text>
<text x="409.50" y="453.11" font-size="9.0" text-anchor="end" fill="#000" stroke="#000" stroke-width="0.12" >CXCL8</text>
<text x="409.50" y="465.89" font-size="9.0" text-anchor="end" fill="#000" stroke="#000" stroke-width="0.12" >IL6</text>
<rect x="414.20" y="469.90" width="51.48" height="6.20" fill="#EF77DA" />
<rect x="467.08" y="469.90" width="102.46" height="6.20" fill="#8BB8F1" />
<text transform="translate(426.13,480.20) rotate(-90)" font-size="9.0" text-anchor="end" fill="#000" stroke="#000" stroke-width="0.12">s__Enterococcus_avium</text>
<text transform="translate(443.39,480.20) rotate(-90)" font-size="9.0" text-anchor="end" fill="#000" stroke="#000" stroke-width="0.12">s__Megasphaera_micronuciformis</text>
<text transform="translate(460.65,480.20) rotate(-90)" font-size="9.0" text-anchor="end" fill="#000" stroke="#000" stroke-width="0.12">s__Fusobacterium_nucleatum</text>
<text transform="translate(477.91,480.20) rotate(-90)" font-size="9.0" text-anchor="end" fill="#000" stroke="#000" stroke-width="0.12">s__Anaerostipes_hadrus</text>
<text transform="translate(495.17,480.20) rotate(-90)" font-size="9.0" text-anchor="end" fill="#000" stroke="#000" stroke-width="0.12">s__Collinsella_aerofaciens</text>
<text transform="translate(512.43,480.20) rotate(-90)" font-size="9.0" text-anchor="end" fill="#000" stroke="#000" stroke-width="0.12">s__Roseburia_inulinivorans</text>
<text transform="translate(529.69,480.20) rotate(-90)" font-size="9.0" text-anchor="end" fill="#000" stroke="#000" stroke-width="0.12">s__Roseburia_hominis</text>
<text transform="translate(546.95,480.20) rotate(-90)" font-size="9.0" text-anchor="end" fill="#000" stroke="#000" stroke-width="0.12">s__Coprococcus_comes</text>
<text transform="translate(564.21,480.20) rotate(-90)" font-size="9.0" text-anchor="end" fill="#000" stroke="#000" stroke-width="0.12">s__Agathobaculum_butyriciproducens</text>
<rect x="580.30" y="328.10" width="8.10" height="6.00" fill="#EF77DA" />
<rect x="580.30" y="340.30" width="8.10" height="6.00" fill="#8BB8F1" />
<text x="591.60" y="334.20" font-size="9.0" text-anchor="start" fill="#000" stroke="#000" stroke-width="0.12" >HIC</text>
<text x="591.60" y="346.40" font-size="9.0" text-anchor="start" fill="#000" stroke="#000" stroke-width="0.12" >Control</text>
<defs><linearGradient id="g786" x1="0" y1="0" x2="0" y2="1"><stop offset="0.0429" stop-color="#C4553F"/><stop offset="0.0809" stop-color="#C9624E"/><stop offset="0.1189" stop-color="#CE6F5C"/><stop offset="0.1569" stop-color="#D27C6A"/><stop offset="0.1949" stop-color="#D78879"/><stop offset="0.2330" stop-color="#DC9588"/><stop offset="0.2710" stop-color="#E1A296"/><stop offset="0.3090" stop-color="#E6B2A8"/><stop offset="0.3470" stop-color="#EBC1B9"/><stop offset="0.3850" stop-color="#F0D0CA"/><stop offset="0.4231" stop-color="#F5E0DC"/><stop offset="0.4611" stop-color="#FAF0EE"/><stop offset="0.4991" stop-color="#FFFFFF"/><stop offset="0.5371" stop-color="#F2F7F9"/><stop offset="0.5751" stop-color="#E4EFF3"/><stop offset="0.6132" stop-color="#D7E6EE"/><stop offset="0.6512" stop-color="#CADEE8"/><stop offset="0.6892" stop-color="#BCD6E2"/><stop offset="0.7272" stop-color="#AFCEDC"/><stop offset="0.7653" stop-color="#A0C4D5"/><stop offset="0.8033" stop-color="#92BACE"/><stop offset="0.8413" stop-color="#84B0C6"/><stop offset="0.8793" stop-color="#75A7BF"/><stop offset="0.9173" stop-color="#669DB8"/><stop offset="0.9554" stop-color="#5893B1"/></linearGradient></defs>
<rect x="580.50" y="411.90" width="11.40" height="56.00" fill="url(#g786)" />
<rect x="581.10" y="413.95" width="2.20" height="0.70" fill="#ffffff" opacity="0.8"/>
<rect x="589.10" y="413.95" width="2.20" height="0.70" fill="#ffffff" opacity="0.8"/>
<rect x="581.10" y="430.98" width="2.20" height="0.70" fill="#ffffff" opacity="0.8"/>
<rect x="589.10" y="430.98" width="2.20" height="0.70" fill="#ffffff" opacity="0.8"/>
<rect x="581.10" y="448.02" width="2.20" height="0.70" fill="#ffffff" opacity="0.8"/>
<rect x="589.10" y="448.02" width="2.20" height="0.70" fill="#ffffff" opacity="0.8"/>
<rect x="581.10" y="465.05" width="2.20" height="0.70" fill="#ffffff" opacity="0.8"/>
<rect x="589.10" y="465.05" width="2.20" height="0.70" fill="#ffffff" opacity="0.8"/>
<text x="595.00" y="417.60" font-size="9.1" text-anchor="start" fill="#000" stroke="#000" stroke-width="0.12" >1</text>
<text x="595.00" y="430.38" font-size="9.1" text-anchor="start" fill="#000" stroke="#000" stroke-width="0.12" >0.5</text>
<text x="595.00" y="443.15" font-size="9.1" text-anchor="start" fill="#000" stroke="#000" stroke-width="0.12" >0</text>
<text x="595.00" y="455.93" font-size="9.1" text-anchor="start" fill="#000" stroke="#000" stroke-width="0.12" >-0.5</text>
<text x="595.00" y="468.70" font-size="9.1" text-anchor="start" fill="#000" stroke="#000" stroke-width="0.12" >-1</text>
<text x="580.00" y="475.50" font-size="8.9" text-anchor="start" fill="#000" stroke="#000" stroke-width="0.12" >corr</text>
<text x="7.35" y="571.60" font-size="11" text-anchor="start" fill="#000" stroke="#000" stroke-width="0.12" >F</text>
<text x="43.20" y="562.60" font-size="10.05" text-anchor="start" fill="#000" stroke="#000" stroke-width="0.12" >Correlation analysis between differential microbial</text>
<text x="43.20" y="574.30" font-size="10.05" text-anchor="start" fill="#000" stroke="#000" stroke-width="0.12" >species  and the tight junction signaling pathway</text>
<rect x="64.00" y="582.10" width="17.46" height="12.91" fill="#639ABB" />
<rect x="81.41" y="582.10" width="17.46" height="12.91" fill="#88B3CB" />
<rect x="98.82" y="582.10" width="17.46" height="12.91" fill="#ACCBDB" />
<rect x="116.23" y="582.10" width="17.46" height="12.91" fill="#CD5D4C" />
<rect x="133.64" y="582.10" width="17.46" height="12.91" fill="#D88273" />
<rect x="151.05" y="582.10" width="17.46" height="12.91" fill="#E3A599" />
<rect x="168.46" y="582.10" width="17.46" height="12.91" fill="#F7E2DF" />
<rect x="185.87" y="582.10" width="17.46" height="12.91" fill="#F8E8E5" />
<rect x="203.28" y="582.10" width="17.46" height="12.91" fill="#F8E8E5" />
<rect x="64.00" y="594.96" width="17.46" height="12.91" fill="#D9E8EF" />
<rect x="81.41" y="594.96" width="17.46" height="12.91" fill="#ECF3F7" />
<rect x="98.82" y="594.96" width="17.46" height="12.91" fill="#ACCBDB" />
<rect x="116.23" y="594.96" width="17.46" height="12.91" fill="#EABAB1" />
<rect x="133.64" y="594.96" width="17.46" height="12.91" fill="#F4D9D4" />
<rect x="151.05" y="594.96" width="17.46" height="12.91" fill="#F4D9D4" />
<rect x="168.46" y="594.96" width="17.46" height="12.91" fill="#ECF3F7" />
<rect x="185.87" y="594.96" width="17.46" height="12.91" fill="#ECF3F7" />
<rect x="203.28" y="594.96" width="17.46" height="12.91" fill="#F8E8E5" />
<rect x="64.00" y="607.82" width="17.46" height="12.91" fill="#E8F1F5" />
<rect x="81.41" y="607.82" width="17.46" height="12.91" fill="#ACCBDB" />
<rect x="98.82" y="607.82" width="17.46" height="12.91" fill="#E2EEF3" />
<rect x="116.23" y="607.82" width="17.46" height="12.91" fill="#D16959" />
<rect x="133.64" y="607.82" width="17.46" height="12.91" fill="#EABAB1" />
<rect x="151.05" y="607.82" width="17.46" height="12.91" fill="#EEC4BD" />
<rect x="168.46" y="607.82" width="17.46" height="12.91" fill="#F7E2DF" />
<rect x="185.87" y="607.82" width="17.46" height="12.91" fill="#F8E8E5" />
<rect x="203.28" y="607.82" width="17.46" height="12.91" fill="#F2F7F9" />
<rect x="64.00" y="620.68" width="17.46" height="12.91" fill="#94BBD1" />
<rect x="81.41" y="620.68" width="17.46" height="12.91" fill="#EEC4BD" />
<rect x="98.82" y="620.68" width="17.46" height="12.91" fill="#88B3CB" />
<rect x="116.23" y="620.68" width="17.46" height="12.91" fill="#DC8E80" />
<rect x="133.64" y="620.68" width="17.46" height="12.91" fill="#E8F1F5" />
<rect x="151.05" y="620.68" width="17.46" height="12.91" fill="#E7AFA5" />
<rect x="168.46" y="620.68" width="17.46" height="12.91" fill="#ECF3F7" />
<rect x="185.87" y="620.68" width="17.46" height="12.91" fill="#F8E8E5" />
<rect x="203.28" y="620.68" width="17.46" height="12.91" fill="#F8E8E5" />
<rect x="64.00" y="633.54" width="17.46" height="12.91" fill="#E8F1F5" />
<rect x="81.41" y="633.54" width="17.46" height="12.91" fill="#7CABC6" />
<rect x="98.82" y="633.54" width="17.46" height="12.91" fill="#F0F6F9" />
<rect x="116.23" y="633.54" width="17.46" height="12.91" fill="#DC8E80" />
<rect x="133.64" y="633.54" width="17.46" height="12.91" fill="#E3A599" />
<rect x="151.05" y="633.54" width="17.46" height="12.91" fill="#F4D9D4" />
<rect x="168.46" y="633.54" width="17.46" height="12.91" fill="#F1CFC9" />
<rect x="185.87" y="633.54" width="17.46" height="12.91" fill="#F8E8E5" />
<rect x="203.28" y="633.54" width="17.46" height="12.91" fill="#F2F7F9" />
<rect x="64.00" y="646.40" width="17.46" height="12.91" fill="#B7D2E1" />
<rect x="81.41" y="646.40" width="17.46" height="12.91" fill="#B7D2E1" />
<rect x="98.82" y="646.40" width="17.46" height="12.91" fill="#F9FCFD" />
<rect x="116.23" y="646.40" width="17.46" height="12.91" fill="#F4D9D4" />
<rect x="133.64" y="646.40" width="17.46" height="12.91" fill="#DC8E80" />
<rect x="151.05" y="646.40" width="17.46" height="12.91" fill="#F4D9D4" />
<rect x="168.46" y="646.40" width="17.46" height="12.91" fill="#F7E2DF" />
<rect x="185.87" y="646.40" width="17.46" height="12.91" fill="#F4D9D4" />
<rect x="203.28" y="646.40" width="17.46" height="12.91" fill="#F2F7F9" />
<rect x="64.00" y="659.26" width="17.46" height="12.91" fill="#F7E2DF" />
<rect x="81.41" y="659.26" width="17.46" height="12.91" fill="#C3DAE6" />
<rect x="98.82" y="659.26" width="17.46" height="12.91" fill="#F0F6F9" />
<rect x="116.23" y="659.26" width="17.46" height="12.91" fill="#E09A8D" />
<rect x="133.64" y="659.26" width="17.46" height="12.91" fill="#EABAB1" />
<rect x="151.05" y="659.26" width="17.46" height="12.91" fill="#E2EEF3" />
<rect x="168.46" y="659.26" width="17.46" height="12.91" fill="#F1CFC9" />
<rect x="185.87" y="659.26" width="17.46" height="12.91" fill="#F5F9FB" />
<rect x="203.28" y="659.26" width="17.46" height="12.91" fill="#F1CFC9" />
<rect x="64.00" y="672.12" width="17.46" height="12.91" fill="#C3DAE6" />
<rect x="81.41" y="672.12" width="17.46" height="12.91" fill="#F4D9D4" />
<rect x="98.82" y="672.12" width="17.46" height="12.91" fill="#ACCBDB" />
<rect x="116.23" y="672.12" width="17.46" height="12.91" fill="#D9E8EF" />
<rect x="133.64" y="672.12" width="17.46" height="12.91" fill="#D9E8EF" />
<rect x="151.05" y="672.12" width="17.46" height="12.91" fill="#F1CFC9" />
<rect x="168.46" y="672.12" width="17.46" height="12.91" fill="#F2F7F9" />
<rect x="185.87" y="672.12" width="17.46" height="12.91" fill="#F8E8E5" />
<rect x="203.28" y="672.12" width="17.46" height="12.91" fill="#F1CFC9" />
<rect x="64.00" y="684.98" width="17.46" height="12.91" fill="#ECF3F7" />
<rect x="81.41" y="684.98" width="17.46" height="12.91" fill="#ACCBDB" />
<rect x="98.82" y="684.98" width="17.46" height="12.91" fill="#F0F6F9" />
<rect x="116.23" y="684.98" width="17.46" height="12.91" fill="#E09A8D" />
<rect x="133.64" y="684.98" width="17.46" height="12.91" fill="#DC8E80" />
<rect x="151.05" y="684.98" width="17.46" height="12.91" fill="#ECF3F7" />
<rect x="168.46" y="684.98" width="17.46" height="12.91" fill="#F8E8E5" />
<rect x="185.87" y="684.98" width="17.46" height="12.91" fill="#F8E8E5" />
<rect x="203.28" y="684.98" width="17.46" height="12.91" fill="#F5F9FB" />
<rect x="64.00" y="697.84" width="17.46" height="12.91" fill="#CFE2EB" />
<rect x="81.41" y="697.84" width="17.46" height="12.91" fill="#EABAB1" />
<rect x="98.82" y="697.84" width="17.46" height="12.91" fill="#F4D9D4" />
<rect x="116.23" y="697.84" width="17.46" height="12.91" fill="#E3A599" />
<rect x="133.64" y="697.84" width="17.46" height="12.91" fill="#F0F6F9" />
<rect x="151.05" y="697.84" width="17.46" height="12.91" fill="#F1CFC9" />
<rect x="168.46" y="697.84" width="17.46" height="12.91" fill="#F7E2DF" />
<rect x="185.87" y="697.84" width="17.46" height="12.91" fill="#F5F9FB" />
<rect x="203.28" y="697.84" width="17.46" height="12.91" fill="#F5F9FB" />
<rect x="64.00" y="710.70" width="17.46" height="12.91" fill="#F1CFC9" />
<rect x="81.41" y="710.70" width="17.46" height="12.91" fill="#D9E8EF" />
<rect x="98.82" y="710.70" width="17.46" height="12.91" fill="#F4D9D4" />
<rect x="116.23" y="710.70" width="17.46" height="12.91" fill="#F4D9D4" />
<rect x="133.64" y="710.70" width="17.46" height="12.91" fill="#F4D9D4" />
<rect x="151.05" y="710.70" width="17.46" height="12.91" fill="#F1CFC9" />
<rect x="168.46" y="710.70" width="17.46" height="12.91" fill="#F7E2DF" />
<rect x="185.87" y="710.70" width="17.46" height="12.91" fill="#F8E8E5" />
<rect x="203.28" y="710.70" width="17.46" height="12.91" fill="#F4D9D4" />
<rect x="64.00" y="594.71" width="156.69" height="0.50" fill="#ffffff" opacity="0.16"/>
<rect x="64.00" y="607.57" width="156.69" height="0.50" fill="#ffffff" opacity="0.16"/>
<rect x="64.00" y="620.43" width="156.69" height="0.50" fill="#ffffff" opacity="0.16"/>
<rect x="64.00" y="633.29" width="156.69" height="0.50" fill="#ffffff" opacity="0.16"/>
<rect x="64.00" y="646.15" width="156.69" height="0.50" fill="#ffffff" opacity="0.16"/>
<rect x="64.00" y="659.01" width="156.69" height="0.50" fill="#ffffff" opacity="0.16"/>
<rect x="64.00" y="671.87" width="156.69" height="0.50" fill="#ffffff" opacity="0.16"/>
<rect x="64.00" y="684.73" width="156.69" height="0.50" fill="#ffffff" opacity="0.16"/>
<rect x="64.00" y="697.59" width="156.69" height="0.50" fill="#ffffff" opacity="0.16"/>
<rect x="64.00" y="710.45" width="156.69" height="0.50" fill="#ffffff" opacity="0.16"/>
<rect x="81.16" y="582.10" width="0.50" height="141.46" fill="#ffffff" opacity="0.16"/>
<rect x="98.57" y="582.10" width="0.50" height="141.46" fill="#ffffff" opacity="0.16"/>
<rect x="115.98" y="582.10" width="0.50" height="141.46" fill="#ffffff" opacity="0.16"/>
<rect x="133.39" y="582.10" width="0.50" height="141.46" fill="#ffffff" opacity="0.16"/>
<rect x="150.80" y="582.10" width="0.50" height="141.46" fill="#ffffff" opacity="0.16"/>
<rect x="168.21" y="582.10" width="0.50" height="141.46" fill="#ffffff" opacity="0.16"/>
<rect x="185.62" y="582.10" width="0.50" height="141.46" fill="#ffffff" opacity="0.16"/>
<rect x="203.03" y="582.10" width="0.50" height="141.46" fill="#ffffff" opacity="0.16"/>
<text x="73.45" y="589.67" font-size="6.0" text-anchor="middle" fill="#000" stroke="#000" stroke-width="0.12" letter-spacing="0.5">***</text>
<text x="90.87" y="589.67" font-size="6.0" text-anchor="middle" fill="#000" stroke="#000" stroke-width="0.12" letter-spacing="0.5">**</text>
<text x="108.28" y="589.67" font-size="6.0" text-anchor="middle" fill="#000" stroke="#000" stroke-width="0.12" letter-spacing="0.5">**</text>
<text x="125.69" y="589.67" font-size="6.0" text-anchor="middle" fill="#000" stroke="#000" stroke-width="0.12" letter-spacing="0.5">***</text>
<text x="143.09" y="589.67" font-size="6.0" text-anchor="middle" fill="#000" stroke="#000" stroke-width="0.12" letter-spacing="0.5">**</text>
<text x="160.50" y="589.67" font-size="6.0" text-anchor="middle" fill="#000" stroke="#000" stroke-width="0.12" letter-spacing="0.5">*</text>
<text x="108.28" y="602.55" font-size="6.0" text-anchor="middle" fill="#000" stroke="#000" stroke-width="0.12" letter-spacing="0.5">**</text>
<text x="90.87" y="615.43" font-size="6.0" text-anchor="middle" fill="#000" stroke="#000" stroke-width="0.12" letter-spacing="0.5">*</text>
<text x="125.69" y="615.43" font-size="6.0" text-anchor="middle" fill="#000" stroke="#000" stroke-width="0.12" letter-spacing="0.5">**</text>
<text x="73.45" y="628.31" font-size="6.0" text-anchor="middle" fill="#000" stroke="#000" stroke-width="0.12" letter-spacing="0.5">**</text>
<text x="108.28" y="628.31" font-size="6.0" text-anchor="middle" fill="#000" stroke="#000" stroke-width="0.12" letter-spacing="0.5">**</text>
<text x="125.69" y="628.31" font-size="6.0" text-anchor="middle" fill="#000" stroke="#000" stroke-width="0.12" letter-spacing="0.5">*</text>
<text x="90.87" y="641.19" font-size="6.0" text-anchor="middle" fill="#000" stroke="#000" stroke-width="0.12" letter-spacing="0.5">**</text>
<text x="125.69" y="641.19" font-size="6.0" text-anchor="middle" fill="#000" stroke="#000" stroke-width="0.12" letter-spacing="0.5">*</text>
<text x="90.87" y="654.07" font-size="6.0" text-anchor="middle" fill="#000" stroke="#000" stroke-width="0.12" letter-spacing="0.5">*</text>
<text x="143.09" y="654.07" font-size="6.0" text-anchor="middle" fill="#000" stroke="#000" stroke-width="0.12" letter-spacing="0.5">**</text>
<text x="125.69" y="666.95" font-size="6.0" text-anchor="middle" fill="#000" stroke="#000" stroke-width="0.12" letter-spacing="0.5">**</text>
<text x="108.28" y="679.83" font-size="6.0" text-anchor="middle" fill="#000" stroke="#000" stroke-width="0.12" letter-spacing="0.5">*</text>
<text x="90.87" y="692.71" font-size="6.0" text-anchor="middle" fill="#000" stroke="#000" stroke-width="0.12" letter-spacing="0.5">*</text>
<text x="125.69" y="692.71" font-size="6.0" text-anchor="middle" fill="#000" stroke="#000" stroke-width="0.12" letter-spacing="0.5">**</text>
<text x="143.09" y="692.71" font-size="6.0" text-anchor="middle" fill="#000" stroke="#000" stroke-width="0.12" letter-spacing="0.5">**</text>
<text x="125.69" y="705.59" font-size="6.0" text-anchor="middle" fill="#000" stroke="#000" stroke-width="0.12" letter-spacing="0.5">**</text>
<text x="59.00" y="591.83" font-size="9.0" text-anchor="end" fill="#000" stroke="#000" stroke-width="0.12" >ZO1</text>
<text x="59.00" y="604.69" font-size="9.0" text-anchor="end" fill="#000" stroke="#000" stroke-width="0.12" >RAC1</text>
<text x="59.00" y="617.55" font-size="9.0" text-anchor="end" fill="#000" stroke="#000" stroke-width="0.12" >JUN</text>
<text x="59.00" y="630.41" font-size="9.0" text-anchor="end" fill="#000" stroke="#000" stroke-width="0.12" >ITGA1</text>
<text x="59.00" y="643.27" font-size="9.0" text-anchor="end" fill="#000" stroke="#000" stroke-width="0.12" >RHOA</text>
<text x="59.00" y="656.13" font-size="9.0" text-anchor="end" fill="#000" stroke="#000" stroke-width="0.12" >ACTG2</text>
<text x="59.00" y="668.99" font-size="9.0" text-anchor="end" fill="#000" stroke="#000" stroke-width="0.12" >MYL6</text>
<text x="59.00" y="681.85" font-size="9.0" text-anchor="end" fill="#000" stroke="#000" stroke-width="0.12" >ACTB</text>
<text x="59.00" y="694.71" font-size="9.0" text-anchor="end" fill="#000" stroke="#000" stroke-width="0.12" >PARD3</text>
<text x="59.00" y="707.57" font-size="9.0" text-anchor="end" fill="#000" stroke="#000" stroke-width="0.12" >TUBA1C</text>
<text x="59.00" y="720.43" font-size="9.0" text-anchor="end" fill="#000" stroke="#000" stroke-width="0.12" >PRKG1</text>
<rect x="64.00" y="725.00" width="51.53" height="6.00" fill="#EF77DA" />
<rect x="116.93" y="725.00" width="103.76" height="6.00" fill="#8BB8F1" />
<text transform="translate(76.00,736.30) rotate(-90)" font-size="9.0" text-anchor="end" fill="#000" stroke="#000" stroke-width="0.12">s__Enterococcus_avium</text>
<text transform="translate(93.42,736.30) rotate(-90)" font-size="9.0" text-anchor="end" fill="#000" stroke="#000" stroke-width="0.12">s__Megasphaera_micronuciformis</text>
<text transform="translate(110.83,736.30) rotate(-90)" font-size="9.0" text-anchor="end" fill="#000" stroke="#000" stroke-width="0.12">s__Fusobacterium_nucleatum</text>
<text transform="translate(128.24,736.30) rotate(-90)" font-size="9.0" text-anchor="end" fill="#000" stroke="#000" stroke-width="0.12">s__Anaerostipes_hadrus</text>
<text transform="translate(145.65,736.30) rotate(-90)" font-size="9.0" text-anchor="end" fill="#000" stroke="#000" stroke-width="0.12">s__Collinsella_aerofaciens</text>
<text transform="translate(163.06,736.30) rotate(-90)" font-size="9.0" text-anchor="end" fill="#000" stroke="#000" stroke-width="0.12">s__Roseburia_inulinivorans</text>
<text transform="translate(180.47,736.30) rotate(-90)" font-size="9.0" text-anchor="end" fill="#000" stroke="#000" stroke-width="0.12">s__Roseburia_hominis</text>
<text transform="translate(197.88,736.30) rotate(-90)" font-size="9.0" text-anchor="end" fill="#000" stroke="#000" stroke-width="0.12">s__Coprococcus_comes</text>
<text transform="translate(215.29,736.30) rotate(-90)" font-size="9.0" text-anchor="end" fill="#000" stroke="#000" stroke-width="0.12">s__Agathobaculum_butyriciproducens</text>
<rect x="231.60" y="582.10" width="7.60" height="5.60" fill="#EF77DA" />
<rect x="231.60" y="594.50" width="7.60" height="5.60" fill="#8BB8F1" />
<text x="242.10" y="588.00" font-size="9.0" text-anchor="start" fill="#000" stroke="#000" stroke-width="0.12" >HIC</text>
<text x="242.10" y="600.40" font-size="9.0" text-anchor="start" fill="#000" stroke="#000" stroke-width="0.12" >Control</text>
<defs><linearGradient id="g970" x1="0" y1="0" x2="0" y2="1"><stop offset="0.0433" stop-color="#C4553F"/><stop offset="0.0816" stop-color="#C9624E"/><stop offset="0.1199" stop-color="#CE6F5C"/><stop offset="0.1582" stop-color="#D27C6A"/><stop offset="0.1965" stop-color="#D78879"/><stop offset="0.2347" stop-color="#DC9588"/><stop offset="0.2730" stop-color="#E1A296"/><stop offset="0.3113" stop-color="#E6B2A8"/><stop offset="0.3496" stop-color="#EBC1B9"/><stop offset="0.3879" stop-color="#F0D0CA"/><stop offset="0.4261" stop-color="#F5E0DC"/><stop offset="0.4644" stop-color="#FAF0EE"/><stop offset="0.5027" stop-color="#FFFFFF"/><stop offset="0.5410" stop-color="#F2F7F9"/><stop offset="0.5793" stop-color="#E4EFF3"/><stop offset="0.6176" stop-color="#D7E6EE"/><stop offset="0.6558" stop-color="#CADEE8"/><stop offset="0.6941" stop-color="#BCD6E2"/><stop offset="0.7324" stop-color="#AFCEDC"/><stop offset="0.7707" stop-color="#A0C4D5"/><stop offset="0.8090" stop-color="#92BACE"/><stop offset="0.8472" stop-color="#84B0C6"/><stop offset="0.8855" stop-color="#75A7BF"/><stop offset="0.9238" stop-color="#669DB8"/><stop offset="0.9621" stop-color="#5893B1"/></linearGradient></defs>
<rect x="230.50" y="667.20" width="11.20" height="55.40" fill="url(#g970)" />
<rect x="231.10" y="669.25" width="2.20" height="0.70" fill="#ffffff" opacity="0.8"/>
<rect x="238.90" y="669.25" width="2.20" height="0.70" fill="#ffffff" opacity="0.8"/>
<rect x="231.10" y="686.22" width="2.20" height="0.70" fill="#ffffff" opacity="0.8"/>
<rect x="238.90" y="686.22" width="2.20" height="0.70" fill="#ffffff" opacity="0.8"/>
<rect x="231.10" y="703.18" width="2.20" height="0.70" fill="#ffffff" opacity="0.8"/>
<rect x="238.90" y="703.18" width="2.20" height="0.70" fill="#ffffff" opacity="0.8"/>
<rect x="231.10" y="720.15" width="2.20" height="0.70" fill="#ffffff" opacity="0.8"/>
<rect x="238.90" y="720.15" width="2.20" height="0.70" fill="#ffffff" opacity="0.8"/>
<text x="245.20" y="672.90" font-size="9.1" text-anchor="start" fill="#000" stroke="#000" stroke-width="0.12" >1</text>
<text x="245.20" y="685.62" font-size="9.1" text-anchor="start" fill="#000" stroke="#000" stroke-width="0.12" >0.5</text>
<text x="245.20" y="698.35" font-size="9.1" text-anchor="start" fill="#000" stroke="#000" stroke-width="0.12" >0</text>
<text x="245.20" y="711.07" font-size="9.1" text-anchor="start" fill="#000" stroke="#000" stroke-width="0.12" >-0.5</text>
<text x="245.20" y="723.80" font-size="9.1" text-anchor="start" fill="#000" stroke="#000" stroke-width="0.12" >-1</text>
<text x="229.30" y="729.70" font-size="8.9" text-anchor="start" fill="#000" stroke="#000" stroke-width="0.12" >corr</text>
<text x="355.40" y="654.00" font-size="11" text-anchor="start" fill="#000" stroke="#000" stroke-width="0.12" >G</text>
<text x="398.90" y="647.30" font-size="10.05" text-anchor="start" fill="#000" stroke="#000" stroke-width="0.12" >Correlation analysis between key microbial species,</text>
<text x="398.90" y="659.20" font-size="10.05" text-anchor="start" fill="#000" stroke="#000" stroke-width="0.12" >urinary metabolites, and HIC symptoms</text>
<rect x="399.30" y="665.60" width="22.57" height="16.47" fill="#CF1717" />
<rect x="421.82" y="665.60" width="22.57" height="16.47" fill="#6298DB" />
<rect x="444.34" y="665.60" width="22.57" height="16.47" fill="#DD4A4A" />
<rect x="466.86" y="665.60" width="22.57" height="16.47" fill="#E57474" />
<rect x="489.38" y="665.60" width="22.57" height="16.47" fill="#EC9D9D" />
<rect x="511.90" y="665.60" width="22.57" height="16.47" fill="#C2D7F0" />
<rect x="534.42" y="665.60" width="22.57" height="16.47" fill="#D3E2F4" />
<rect x="556.94" y="665.60" width="22.57" height="16.47" fill="#C2D7F0" />
<rect x="399.30" y="682.02" width="22.57" height="16.47" fill="#D42A2A" />
<rect x="421.82" y="682.02" width="22.57" height="16.47" fill="#0555C4" />
<rect x="444.34" y="682.02" width="22.57" height="16.47" fill="#D22020" />
<rect x="466.86" y="682.02" width="22.57" height="16.47" fill="#EEABAB" />
<rect x="489.38" y="682.02" width="22.57" height="16.47" fill="#F0B8B8" />
<rect x="511.90" y="682.02" width="22.57" height="16.47" fill="#6298DB" />
<rect x="534.42" y="682.02" width="22.57" height="16.47" fill="#ABC8EB" />
<rect x="556.94" y="682.02" width="22.57" height="16.47" fill="#C2D7F0" />
<rect x="399.30" y="698.44" width="22.57" height="16.47" fill="#D22020" />
<rect x="421.82" y="698.44" width="22.57" height="16.47" fill="#5690D8" />
<rect x="444.34" y="698.44" width="22.57" height="16.47" fill="#D22020" />
<rect x="466.86" y="698.44" width="22.57" height="16.47" fill="#F5D1D1" />
<rect x="489.38" y="698.44" width="22.57" height="16.47" fill="#E57474" />
<rect x="511.90" y="698.44" width="22.57" height="16.47" fill="#C9DCF2" />
<rect x="534.42" y="698.44" width="22.57" height="16.47" fill="#ABC8EB" />
<rect x="556.94" y="698.44" width="22.57" height="16.47" fill="#F5D1D1" />
<rect x="399.30" y="714.86" width="22.57" height="16.47" fill="#D42A2A" />
<rect x="421.82" y="714.86" width="22.57" height="16.47" fill="#3D80D2" />
<rect x="444.34" y="714.86" width="22.57" height="16.47" fill="#DA3C3C" />
<rect x="466.86" y="714.86" width="22.57" height="16.47" fill="#F0B8B8" />
<rect x="489.38" y="714.86" width="22.57" height="16.47" fill="#EC9D9D" />
<rect x="511.90" y="714.86" width="22.57" height="16.47" fill="#90B6E5" />
<rect x="534.42" y="714.86" width="22.57" height="16.47" fill="#ABC8EB" />
<rect x="556.94" y="714.86" width="22.57" height="16.47" fill="#C2D7F0" />
<rect x="399.30" y="681.77" width="180.16" height="0.50" fill="#ffffff" opacity="0.16"/>
<rect x="399.30" y="698.19" width="180.16" height="0.50" fill="#ffffff" opacity="0.16"/>
<rect x="399.30" y="714.61" width="180.16" height="0.50" fill="#ffffff" opacity="0.16"/>
<rect x="421.57" y="665.60" width="0.50" height="65.68" fill="#ffffff" opacity="0.16"/>
<rect x="444.09" y="665.60" width="0.50" height="65.68" fill="#ffffff" opacity="0.16"/>
<rect x="466.61" y="665.60" width="0.50" height="65.68" fill="#ffffff" opacity="0.16"/>
<rect x="489.13" y="665.60" width="0.50" height="65.68" fill="#ffffff" opacity="0.16"/>
<rect x="511.65" y="665.60" width="0.50" height="65.68" fill="#ffffff" opacity="0.16"/>
<rect x="534.17" y="665.60" width="0.50" height="65.68" fill="#ffffff" opacity="0.16"/>
<rect x="556.69" y="665.60" width="0.50" height="65.68" fill="#ffffff" opacity="0.16"/>
<text x="411.31" y="675.47" font-size="6.0" text-anchor="middle" fill="#000" stroke="#000" stroke-width="0.12" letter-spacing="0.5">***</text>
<text x="433.83" y="675.47" font-size="6.0" text-anchor="middle" fill="#000" stroke="#000" stroke-width="0.12" letter-spacing="0.5">*</text>
<text x="456.35" y="675.47" font-size="6.0" text-anchor="middle" fill="#000" stroke="#000" stroke-width="0.12" letter-spacing="0.5">**</text>
<text x="478.87" y="675.47" font-size="6.0" text-anchor="middle" fill="#000" stroke="#000" stroke-width="0.12" letter-spacing="0.5">*</text>
<text x="411.31" y="691.17" font-size="6.0" text-anchor="middle" fill="#000" stroke="#000" stroke-width="0.12" letter-spacing="0.5">***</text>
<text x="433.83" y="691.17" font-size="6.0" text-anchor="middle" fill="#000" stroke="#000" stroke-width="0.12" letter-spacing="0.5">***</text>
<text x="456.35" y="691.17" font-size="6.0" text-anchor="middle" fill="#000" stroke="#000" stroke-width="0.12" letter-spacing="0.5">***</text>
<text x="523.91" y="691.17" font-size="6.0" text-anchor="middle" fill="#000" stroke="#000" stroke-width="0.12" letter-spacing="0.5">*</text>
<text x="411.31" y="706.87" font-size="6.0" text-anchor="middle" fill="#000" stroke="#000" stroke-width="0.12" letter-spacing="0.5">***</text>
<text x="433.83" y="706.87" font-size="6.0" text-anchor="middle" fill="#000" stroke="#000" stroke-width="0.12" letter-spacing="0.5">*</text>
<text x="456.35" y="706.87" font-size="6.0" text-anchor="middle" fill="#000" stroke="#000" stroke-width="0.12" letter-spacing="0.5">***</text>
<text x="501.39" y="706.87" font-size="6.0" text-anchor="middle" fill="#000" stroke="#000" stroke-width="0.12" letter-spacing="0.5">*</text>
<text x="411.31" y="722.57" font-size="6.0" text-anchor="middle" fill="#000" stroke="#000" stroke-width="0.12" letter-spacing="0.5">***</text>
<text x="433.83" y="722.57" font-size="6.0" text-anchor="middle" fill="#000" stroke="#000" stroke-width="0.12" letter-spacing="0.5">**</text>
<text x="456.35" y="722.57" font-size="6.0" text-anchor="middle" fill="#000" stroke="#000" stroke-width="0.12" letter-spacing="0.5">**</text>
<text x="395.00" y="676.61" font-size="9.0" text-anchor="end" fill="#000" stroke="#000" stroke-width="0.12" >ICPI</text>
<text x="395.00" y="693.03" font-size="9.0" text-anchor="end" fill="#000" stroke="#000" stroke-width="0.12" >ICSI</text>
<text x="395.00" y="709.45" font-size="9.0" text-anchor="end" fill="#000" stroke="#000" stroke-width="0.12" >VAS</text>
<text x="395.00" y="725.87" font-size="9.0" text-anchor="end" fill="#000" stroke="#000" stroke-width="0.12" >No. of voids/24h</text>
<rect x="399.30" y="732.90" width="44.44" height="5.90" fill="#C49BD3" />
<rect x="444.94" y="732.90" width="134.52" height="5.90" fill="#8C8CF6" />
<rect x="444.94" y="740.10" width="66.36" height="5.90" fill="#EF77DA" />
<rect x="512.50" y="740.10" width="66.96" height="5.90" fill="#8BB8F1" />
<text transform="translate(413.86,743.80) rotate(-90)" font-size="9.0" text-anchor="end" fill="#000" stroke="#000" stroke-width="0.12">TCDCA</text>
<text transform="translate(436.38,743.80) rotate(-90)" font-size="9.0" text-anchor="end" fill="#000" stroke="#000" stroke-width="0.12">TUDCA</text>
<text transform="translate(458.90,751.30) rotate(-90)" font-size="9.0" text-anchor="end" fill="#000" stroke="#000" stroke-width="0.12">s__Enterococcus_avium</text>
<text transform="translate(481.42,751.30) rotate(-90)" font-size="9.0" text-anchor="end" fill="#000" stroke="#000" stroke-width="0.12">s__Megasphaera_micronuciformis</text>
<text transform="translate(503.94,751.30) rotate(-90)" font-size="9.0" text-anchor="end" fill="#000" stroke="#000" stroke-width="0.12">s__Fusobacterium_nucleatum</text>
<text transform="translate(526.46,751.30) rotate(-90)" font-size="9.0" text-anchor="end" fill="#000" stroke="#000" stroke-width="0.12">s__Anaerostipes_hadrus</text>
<text transform="translate(548.98,751.30) rotate(-90)" font-size="9.0" text-anchor="end" fill="#000" stroke="#000" stroke-width="0.12">s__Collinsella_aerofaciens</text>
<text transform="translate(571.50,751.30) rotate(-90)" font-size="9.0" text-anchor="end" fill="#000" stroke="#000" stroke-width="0.12">s__Roseburia_inulinivorans</text>
<defs><linearGradient id="g1062" x1="0" y1="0" x2="0" y2="1"><stop offset="0.0413" stop-color="#CC0E0E"/><stop offset="0.0795" stop-color="#D11D1D"/><stop offset="0.1176" stop-color="#D52D2D"/><stop offset="0.1558" stop-color="#DA3C3C"/><stop offset="0.1939" stop-color="#DF5353"/><stop offset="0.2321" stop-color="#E36B6B"/><stop offset="0.2702" stop-color="#E88282"/><stop offset="0.3084" stop-color="#EB9999"/><stop offset="0.3466" stop-color="#EFAFAF"/><stop offset="0.3847" stop-color="#F2C6C6"/><stop offset="0.4229" stop-color="#F6D9D9"/><stop offset="0.4610" stop-color="#FBECEC"/><stop offset="0.4992" stop-color="#FFFFFF"/><stop offset="0.5373" stop-color="#EBF2FA"/><stop offset="0.5755" stop-color="#D6E4F5"/><stop offset="0.6136" stop-color="#C2D7F0"/><stop offset="0.6518" stop-color="#A6C5EA"/><stop offset="0.6899" stop-color="#8BB2E4"/><stop offset="0.7281" stop-color="#6FA0DE"/><stop offset="0.7663" stop-color="#5A93D9"/><stop offset="0.8044" stop-color="#4585D4"/><stop offset="0.8426" stop-color="#3078CF"/><stop offset="0.8807" stop-color="#226CCB"/><stop offset="0.9189" stop-color="#1361C8"/><stop offset="0.9570" stop-color="#0555C4"/></linearGradient></defs>
<rect x="588.70" y="670.30" width="12.20" height="60.50" fill="url(#g1062)" />
<rect x="589.30" y="672.45" width="2.20" height="0.70" fill="#ffffff" opacity="0.8"/>
<rect x="598.10" y="672.45" width="2.20" height="0.70" fill="#ffffff" opacity="0.8"/>
<rect x="589.30" y="686.30" width="2.20" height="0.70" fill="#ffffff" opacity="0.8"/>
<rect x="598.10" y="686.30" width="2.20" height="0.70" fill="#ffffff" opacity="0.8"/>
<rect x="589.30" y="700.15" width="2.20" height="0.70" fill="#ffffff" opacity="0.8"/>
<rect x="598.10" y="700.15" width="2.20" height="0.70" fill="#ffffff" opacity="0.8"/>
<rect x="589.30" y="714.00" width="2.20" height="0.70" fill="#ffffff" opacity="0.8"/>
<rect x="598.10" y="714.00" width="2.20" height="0.70" fill="#ffffff" opacity="0.8"/>
<rect x="589.30" y="727.85" width="2.20" height="0.70" fill="#ffffff" opacity="0.8"/>
<rect x="598.10" y="727.85" width="2.20" height="0.70" fill="#ffffff" opacity="0.8"/>
<text x="603.00" y="676.30" font-size="9.7" text-anchor="start" fill="#000" stroke="#000" stroke-width="0.12" >1</text>
<text x="603.00" y="690.15" font-size="9.7" text-anchor="start" fill="#000" stroke="#000" stroke-width="0.12" >0.5</text>
<text x="603.00" y="704.00" font-size="9.7" text-anchor="start" fill="#000" stroke="#000" stroke-width="0.12" >0</text>
<text x="603.00" y="717.85" font-size="9.7" text-anchor="start" fill="#000" stroke="#000" stroke-width="0.12" >-0.5</text>
<text x="603.00" y="731.70" font-size="9.7" text-anchor="start" fill="#000" stroke="#000" stroke-width="0.12" >-1</text>
<text x="586.60" y="739.40" font-size="10.8" text-anchor="start" fill="#000" stroke="#000" stroke-width="0.12" >corr</text>
<rect x="629.50" y="690.00" width="7.80" height="5.90" fill="#EF77DA" />
<rect x="629.50" y="702.30" width="7.80" height="5.90" fill="#8BB8F1" />
<text x="640.70" y="696.05" font-size="9.0" text-anchor="start" fill="#000" stroke="#000" stroke-width="0.12" >HIC</text>
<text x="640.70" y="708.35" font-size="9.0" text-anchor="start" fill="#000" stroke="#000" stroke-width="0.12" >Control</text>
<rect x="587.80" y="753.30" width="7.80" height="7.40" fill="#C49CD6" />
<rect x="587.80" y="765.80" width="7.80" height="7.40" fill="#8C8CF6" />
<text x="599.10" y="760.60" font-size="9.95" text-anchor="start" fill="#000" stroke="#000" stroke-width="0.12" >Urinary metabolites</text>
<text x="599.10" y="773.10" font-size="9.95" text-anchor="start" fill="#000" stroke="#000" stroke-width="0.12" >Microbial species</text>
</g>
</svg>
</body></html>
